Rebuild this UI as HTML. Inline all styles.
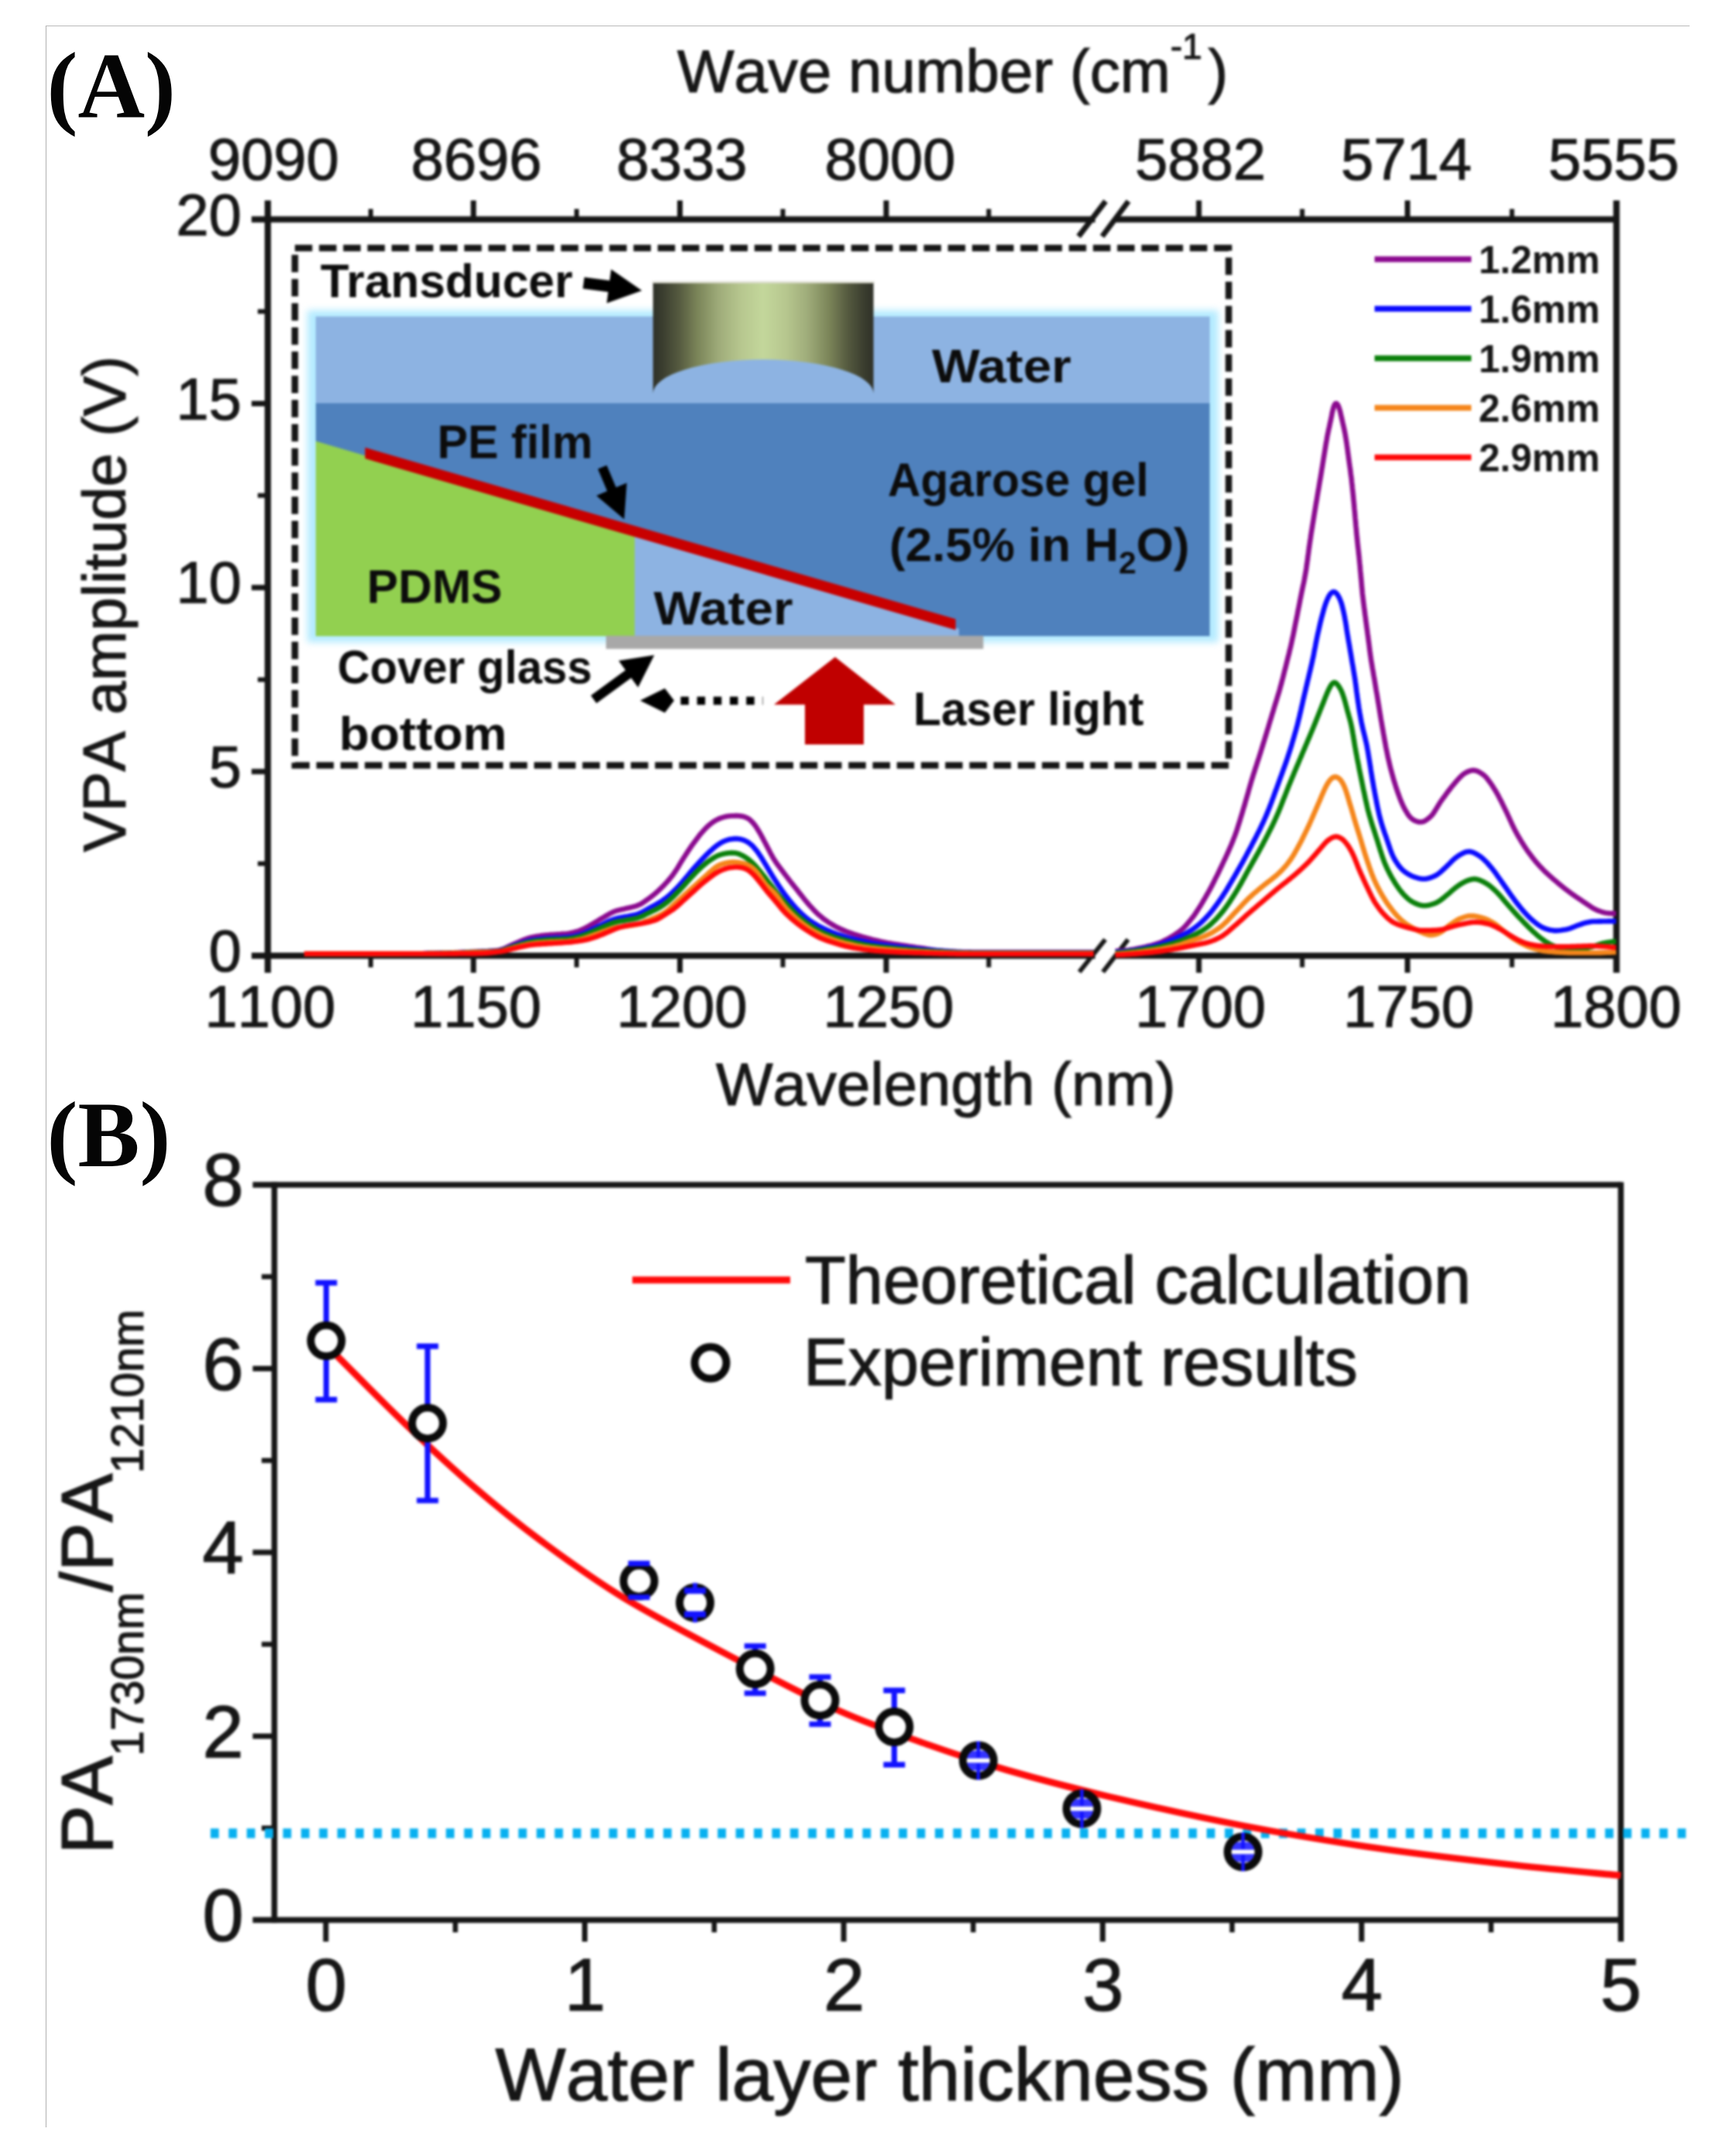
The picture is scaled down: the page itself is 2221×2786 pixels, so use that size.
<!DOCTYPE html>
<html lang="en">
<head>
<meta charset="utf-8">
<title>VPA amplitude spectra and water layer thickness</title>
<style>
html,body{margin:0;padding:0;background:#fff;}
body{width:2221px;height:2786px;overflow:hidden;position:relative;}
svg{display:block;position:absolute;left:0;top:0;}
</style>
</head>
<body>
<svg width="2221" height="2786" viewBox="0 0 2221 2786">
<defs>
<filter id="soft" color-interpolation-filters="sRGB" x="0" y="0" width="2221" height="2786" filterUnits="userSpaceOnUse"><feGaussianBlur stdDeviation="1.6"/></filter>
<filter id="soft2" x="40" y="40" width="220" height="1520" filterUnits="userSpaceOnUse" color-interpolation-filters="sRGB"><feGaussianBlur stdDeviation="0.7"/></filter>
<filter id="glow" color-interpolation-filters="sRGB" x="380" y="385" width="1215" height="465" filterUnits="userSpaceOnUse"><feGaussianBlur stdDeviation="4"/></filter>
<linearGradient id="trg" x1="0" x2="1" y1="0" y2="0">
<stop offset="0" stop-color="#2f3128"/><stop offset="0.04" stop-color="#393c2e"/><stop offset="0.12" stop-color="#565b40"/><stop offset="0.2" stop-color="#7a8458"/><stop offset="0.3" stop-color="#9fac7a"/><stop offset="0.4" stop-color="#b7c78f"/><stop offset="0.5" stop-color="#c3d79b"/><stop offset="0.6" stop-color="#b7c78f"/><stop offset="0.7" stop-color="#9fac7a"/><stop offset="0.8" stop-color="#7a8458"/><stop offset="0.88" stop-color="#565b40"/><stop offset="0.96" stop-color="#393c2e"/><stop offset="1" stop-color="#2f3128"/>
</linearGradient>
</defs>
<rect width="2221" height="2786" fill="#fff"/>
<path d="M59.5 2749 V33.5 H2183" fill="none" stroke="#b9b9b9" stroke-width="1.2"/>
<g filter="url(#soft)">
<g>
<rect x="397" y="401" width="1177" height="429" fill="#b4ebff" filter="url(#glow)"/>
<rect x="408" y="409" width="1155" height="113" fill="#8db3e2"/>
<rect x="408" y="521" width="1155" height="301" fill="#4f81bd"/>
<polygon points="408,570 820,691 820,822 408,822" fill="#92d050"/>
<polygon points="820,691 1239,812.5 1239,822 820,822" fill="#8db3e2"/>
<polygon points="471.7,578.3 1234.7,799.9 1234.7,814.1 471.7,592.5" fill="#c80000"/>
<rect x="783" y="821.5" width="487.5" height="17" fill="#a8a8a8"/>
<path d="M843.7 366 H1128.6 V508.5 A142.45 44 0 0 0 843.7 508.5 Z" fill="url(#trg)"/>
<path d="M842.5 364.8 H1129.8" stroke="#dcdcd0" stroke-width="2.5" fill="none"/>
<rect x="381" y="320.5" width="1206.5" height="668.5" fill="none" stroke="#161616" stroke-width="8.5" stroke-dasharray="22.5 8.75"/>
<g fill="#000">
<g transform="translate(754 365.6) rotate(7.4)"><path d="M0 -7.5 H33 V-22 L76 0 L33 22 V7.5 H0 Z"/></g>
<g transform="translate(778.2 603.6) rotate(67.2)"><path d="M0 -6.2 H31 V-21.3 L73 0 L31 21.3 V6.2 H0 Z"/></g>
<g transform="translate(767 903.7) rotate(-36.1)"><path d="M0 -6.2 H55.5 V-21.3 L97 0 L55.5 21.3 V6.2 H0 Z"/></g>
<path d="M827 905.2 L859 889.5 L871 905.2 L859 921 Z"/>
<line x1="879.4" x2="986" y1="905.5" y2="905.5" stroke="#000" stroke-width="10.5" stroke-dasharray="10.5 10.7"/>
</g>
<path d="M1079 849 L1157 910.5 H1116 V962 H1040 V910.5 H1000 Z" fill="#c00000"/>
<g font-family="'Liberation Sans', Arial, sans-serif" font-weight="bold" font-size="61" fill="#0c0c0c">
<text x="414.0" y="384.0" textLength="326.0" lengthAdjust="spacingAndGlyphs">Transducer</text>
<text x="1204.0" y="493.5" textLength="180.0" lengthAdjust="spacingAndGlyphs">Water</text>
<text x="565.0" y="592.0" textLength="201.0" lengthAdjust="spacingAndGlyphs">PE film</text>
<text x="1147.0" y="640.5" textLength="337.0" lengthAdjust="spacingAndGlyphs">Agarose gel</text>
<text x="1149" y="724.5" textLength="388" lengthAdjust="spacingAndGlyphs">(2.5% in H<tspan font-size="40" dy="16">2</tspan><tspan dy="-16">O)</tspan></text>
<text x="474.0" y="778.5" textLength="175.0" lengthAdjust="spacingAndGlyphs">PDMS</text>
<text x="844.5" y="806.5" textLength="180.0" lengthAdjust="spacingAndGlyphs">Water</text>
<text x="436.0" y="882.5" textLength="329.0" lengthAdjust="spacingAndGlyphs">Cover glass</text>
<text x="438.0" y="968.5" textLength="217.0" lengthAdjust="spacingAndGlyphs">bottom</text>
<text x="1180.0" y="936.5" textLength="298.0" lengthAdjust="spacingAndGlyphs">Laser light</text>
</g>
</g>
<g stroke="#161616" fill="none" stroke-linecap="butt">
<path stroke-width="8.2" d="M346.0 259.0 V1257.0 M2088.5 259.0 V1257.0"/>
<path stroke-width="8.2" d="M325 283.5 H1415.0 M1442.0 283.5 H2088.5 M325 1235.0 H1415.0 M1442.0 1235.0 H2088.5"/>
<path stroke-width="7" d="M611.7 283.5 V259.0 M611.7 1235.0 V1257.0 M878.5 283.5 V259.0 M878.5 1235.0 V1257.0 M1145.0 283.5 V259.0 M1145.0 1235.0 V1257.0 M1549.0 283.5 V259.0 M1549.0 1235.0 V1257.0 M1818.5 283.5 V259.0 M1818.5 1235.0 V1257.0 "/>
<path stroke-width="6" d="M479.0 283.5 V270.0 M479.0 1235.0 V1250.0 M745.0 283.5 V270.0 M745.0 1235.0 V1250.0 M1011.5 283.5 V270.0 M1011.5 1235.0 V1250.0 M1277.5 283.5 V270.0 M1277.5 1235.0 V1250.0 M1682.5 283.5 V270.0 M1682.5 1235.0 V1250.0 M1953.5 283.5 V270.0 M1953.5 1235.0 V1250.0 "/>
<path stroke-width="7" d="M325 521.4 H346.0 M325 759.2 H346.0 M325 997.1 H346.0 "/>
<path stroke-width="6" d="M333 402.4 H346.0 M333 640.3 H346.0 M333 878.2 H346.0 M333 1116.1 H346.0 "/>
<path stroke-width="7" d="M1393.5 305.5 L1428.5 260 M1424 305.5 L1458 260"/>
<path stroke-width="6" d="M1394.5 1256 L1428 1214 M1425 1256 L1457.5 1214"/>
</g>
<g fill="none" stroke-width="6.6" stroke-linejoin="round" stroke-linecap="butt">
<path stroke="#8b0a8f" d="M393.0 1232.5 L396.0 1232.5 L398.1 1232.5 L400.5 1232.5 L403.0 1232.5 L405.5 1232.5 L408.0 1232.5 L410.5 1232.5 L413.0 1232.5 L415.5 1232.5 L418.0 1232.5 L420.5 1232.5 L423.0 1232.5 L425.5 1232.5 L428.0 1232.5 L430.5 1232.5 L433.0 1232.5 L435.5 1232.5 L438.0 1232.5 L440.5 1232.5 L443.0 1232.5 L445.5 1232.5 L448.0 1232.5 L450.5 1232.5 L453.0 1232.5 L455.5 1232.5 L458.0 1232.5 L460.5 1232.5 L463.0 1232.5 L465.5 1232.5 L468.0 1232.5 L470.5 1232.5 L473.0 1232.5 L475.5 1232.5 L478.0 1232.5 L480.5 1232.5 L483.0 1232.5 L485.5 1232.5 L488.0 1232.5 L490.5 1232.5 L493.0 1232.5 L495.5 1232.5 L498.0 1232.5 L500.5 1232.5 L503.0 1232.5 L505.5 1232.4 L508.0 1232.4 L510.5 1232.4 L513.0 1232.4 L515.5 1232.4 L518.0 1232.4 L520.5 1232.4 L523.0 1232.3 L525.5 1232.3 L528.0 1232.3 L530.5 1232.3 L533.0 1232.3 L535.5 1232.2 L538.0 1232.2 L540.5 1232.2 L543.0 1232.2 L545.5 1232.2 L548.0 1232.1 L550.5 1232.1 L553.0 1232.1 L555.5 1232.0 L558.0 1232.0 L560.5 1232.0 L563.0 1231.9 L565.5 1231.9 L568.0 1231.8 L570.5 1231.8 L573.0 1231.7 L575.5 1231.6 L578.0 1231.5 L580.5 1231.4 L583.0 1231.3 L585.5 1231.2 L588.0 1231.1 L590.5 1231.0 L593.0 1230.9 L595.5 1230.7 L598.0 1230.6 L600.5 1230.5 L603.0 1230.4 L605.5 1230.2 L608.0 1230.1 L610.5 1230.0 L613.0 1229.8 L615.4 1229.7 L617.9 1229.6 L620.4 1229.5 L622.9 1229.4 L625.4 1229.3 L627.9 1229.2 L630.4 1229.1 L632.9 1228.9 L635.4 1228.8 L637.9 1228.6 L640.4 1228.4 L642.9 1228.1 L645.3 1227.7 L647.7 1227.0 L650.1 1226.2 L652.4 1225.3 L654.7 1224.2 L656.9 1223.1 L659.2 1222.1 L661.4 1221.0 L663.7 1220.0 L666.0 1219.0 L668.3 1218.0 L670.6 1217.1 L672.9 1216.1 L675.2 1215.1 L677.6 1214.2 L679.9 1213.3 L682.3 1212.5 L684.6 1211.8 L687.1 1211.2 L689.5 1210.7 L692.0 1210.2 L694.4 1209.8 L696.9 1209.5 L699.4 1209.1 L701.9 1208.8 L704.3 1208.5 L706.8 1208.3 L709.3 1208.1 L711.8 1207.8 L714.3 1207.7 L716.8 1207.5 L719.3 1207.4 L721.8 1207.2 L724.3 1207.1 L726.8 1206.9 L729.3 1206.7 L731.8 1206.5 L734.2 1206.2 L736.7 1205.8 L739.1 1205.3 L741.6 1204.7 L744.0 1204.0 L746.4 1203.3 L748.7 1202.5 L751.0 1201.5 L753.3 1200.5 L755.6 1199.4 L757.8 1198.3 L760.0 1197.1 L762.2 1195.9 L764.3 1194.6 L766.5 1193.4 L768.6 1192.1 L770.8 1190.8 L772.9 1189.5 L775.1 1188.2 L777.2 1186.9 L779.4 1185.7 L781.5 1184.4 L783.6 1183.1 L785.8 1181.8 L787.9 1180.6 L790.2 1179.4 L792.4 1178.4 L794.8 1177.5 L797.1 1176.7 L799.5 1176.1 L802.0 1175.5 L804.4 1174.9 L806.8 1174.4 L809.3 1173.8 L811.7 1173.3 L814.2 1172.7 L816.6 1172.1 L819.0 1171.5 L821.4 1170.8 L823.8 1170.0 L826.0 1169.0 L828.3 1167.9 L830.4 1166.6 L832.5 1165.2 L834.5 1163.8 L836.6 1162.3 L838.6 1160.8 L840.6 1159.3 L842.5 1157.8 L844.5 1156.3 L846.4 1154.7 L848.3 1153.0 L850.2 1151.4 L852.0 1149.7 L853.8 1148.0 L855.6 1146.2 L857.4 1144.4 L859.1 1142.6 L860.8 1140.8 L862.5 1138.9 L864.1 1137.0 L865.7 1135.1 L867.3 1133.2 L868.8 1131.2 L870.3 1129.2 L871.7 1127.2 L873.1 1125.1 L874.5 1123.0 L875.8 1120.9 L877.1 1118.7 L878.4 1116.6 L879.7 1114.4 L881.0 1112.3 L882.3 1110.2 L883.6 1108.1 L885.0 1106.0 L886.3 1103.9 L887.7 1101.8 L889.1 1099.7 L890.5 1097.6 L891.9 1095.5 L893.3 1093.5 L894.7 1091.4 L896.2 1089.4 L897.7 1087.4 L899.2 1085.4 L900.7 1083.4 L902.2 1081.4 L903.7 1079.4 L905.3 1077.5 L907.0 1075.6 L908.6 1073.8 L910.3 1071.9 L912.0 1070.1 L913.8 1068.3 L915.6 1066.7 L917.6 1065.1 L919.5 1063.5 L921.6 1062.1 L923.7 1060.7 L925.8 1059.5 L928.1 1058.4 L930.4 1057.4 L932.7 1056.6 L935.1 1055.9 L937.5 1055.3 L940.0 1054.8 L942.4 1054.5 L944.9 1054.3 L947.4 1054.2 L949.9 1054.1 L952.4 1054.1 L954.9 1054.3 L957.4 1054.6 L959.8 1055.0 L962.2 1055.7 L964.5 1056.6 L966.7 1057.7 L968.7 1059.2 L970.5 1060.8 L972.3 1062.6 L973.9 1064.5 L975.4 1066.4 L976.9 1068.5 L978.2 1070.5 L979.5 1072.7 L980.8 1074.8 L982.1 1077.0 L983.3 1079.2 L984.5 1081.4 L985.7 1083.6 L986.8 1085.8 L988.0 1088.0 L989.2 1090.2 L990.3 1092.4 L991.5 1094.6 L992.6 1096.9 L993.8 1099.1 L994.9 1101.3 L996.1 1103.5 L997.3 1105.7 L998.5 1107.9 L999.8 1110.0 L1001.1 1112.1 L1002.5 1114.2 L1003.9 1116.3 L1005.4 1118.3 L1006.9 1120.3 L1008.4 1122.3 L1009.9 1124.3 L1011.4 1126.3 L1012.9 1128.3 L1014.4 1130.3 L1016.0 1132.3 L1017.5 1134.2 L1019.0 1136.2 L1020.5 1138.2 L1022.1 1140.2 L1023.6 1142.1 L1025.2 1144.1 L1026.7 1146.0 L1028.3 1148.0 L1029.9 1149.9 L1031.4 1151.9 L1032.9 1153.9 L1034.5 1155.9 L1036.0 1157.8 L1037.6 1159.8 L1039.1 1161.7 L1040.7 1163.7 L1042.3 1165.6 L1043.9 1167.5 L1045.5 1169.4 L1047.2 1171.3 L1048.9 1173.1 L1050.6 1174.9 L1052.3 1176.8 L1054.1 1178.5 L1055.9 1180.3 L1057.7 1182.0 L1059.6 1183.6 L1061.5 1185.2 L1063.5 1186.8 L1065.4 1188.3 L1067.5 1189.7 L1069.5 1191.2 L1071.6 1192.5 L1073.7 1193.8 L1075.9 1195.1 L1078.1 1196.4 L1080.3 1197.6 L1082.5 1198.7 L1084.7 1199.8 L1087.0 1200.9 L1089.3 1201.9 L1091.6 1202.9 L1093.9 1203.8 L1096.2 1204.6 L1098.6 1205.5 L1101.0 1206.3 L1103.3 1207.1 L1105.7 1207.8 L1108.1 1208.6 L1110.5 1209.3 L1112.9 1210.1 L1115.3 1210.8 L1117.7 1211.5 L1120.1 1212.1 L1122.5 1212.8 L1124.9 1213.4 L1127.3 1214.1 L1129.8 1214.7 L1132.2 1215.3 L1134.6 1215.8 L1137.1 1216.4 L1139.5 1216.9 L1141.9 1217.4 L1144.4 1217.9 L1146.9 1218.4 L1149.3 1218.8 L1151.8 1219.3 L1154.2 1219.7 L1156.7 1220.1 L1159.2 1220.4 L1161.7 1220.8 L1164.1 1221.2 L1166.6 1221.5 L1169.1 1221.9 L1171.5 1222.3 L1174.0 1222.7 L1176.5 1223.0 L1179.0 1223.4 L1181.4 1223.8 L1183.9 1224.2 L1186.4 1224.5 L1188.8 1224.9 L1191.3 1225.2 L1193.8 1225.6 L1196.3 1226.0 L1198.7 1226.4 L1201.2 1226.8 L1203.7 1227.2 L1206.1 1227.6 L1208.6 1227.9 L1211.1 1228.2 L1213.6 1228.4 L1216.1 1228.6 L1218.6 1228.8 L1221.1 1229.0 L1223.6 1229.1 L1226.1 1229.3 L1228.5 1229.5 L1231.0 1229.6 L1233.5 1229.7 L1236.0 1229.9 L1238.5 1230.0 L1241.0 1230.1 L1243.5 1230.2 L1246.0 1230.3 L1248.5 1230.3 L1251.0 1230.4 L1253.5 1230.4 L1256.0 1230.5 L1258.5 1230.5 L1261.0 1230.5 L1263.5 1230.5 L1266.0 1230.5 L1268.5 1230.5 L1271.0 1230.5 L1273.5 1230.5 L1276.0 1230.5 L1278.5 1230.5 L1281.0 1230.5 L1283.5 1230.5 L1286.0 1230.5 L1288.5 1230.5 L1291.0 1230.5 L1293.5 1230.5 L1296.0 1230.5 L1298.5 1230.5 L1301.0 1230.5 L1303.5 1230.5 L1306.0 1230.5 L1308.5 1230.5 L1311.0 1230.5 L1313.5 1230.5 L1316.0 1230.5 L1318.5 1230.5 L1321.0 1230.5 L1323.5 1230.5 L1326.0 1230.5 L1328.5 1230.5 L1331.0 1230.5 L1333.5 1230.5 L1336.0 1230.5 L1338.5 1230.5 L1341.0 1230.5 L1343.5 1230.5 L1346.0 1230.5 L1348.5 1230.5 L1351.0 1230.5 L1353.5 1230.5 L1356.0 1230.5 L1358.5 1230.5 L1361.0 1230.5 L1363.5 1230.5 L1366.0 1230.5 L1368.5 1230.5 L1371.0 1230.5 L1373.5 1230.5 L1376.0 1230.5 L1378.5 1230.5 L1381.0 1230.5 L1383.5 1230.5 L1386.0 1230.5 L1388.5 1230.5 L1391.0 1230.5 L1393.5 1230.5 L1396.0 1230.5 L1398.5 1230.5 L1401.0 1230.5 L1403.5 1230.5 L1406.0 1230.5 L1408.3 1230.5 L1410.3 1230.5 L1413.0 1230.5"/>
<path stroke="#8b0a8f" d="M1441.0 1229.0 L1443.8 1228.9 L1446.1 1228.8 L1448.5 1228.7 L1451.0 1228.5 L1453.5 1228.3 L1456.0 1228.0 L1458.4 1227.7 L1460.9 1227.3 L1463.4 1226.9 L1465.8 1226.5 L1468.3 1226.0 L1470.7 1225.5 L1473.2 1225.0 L1475.6 1224.5 L1478.1 1223.9 L1480.5 1223.4 L1482.9 1222.8 L1485.4 1222.2 L1487.8 1221.6 L1490.2 1220.9 L1492.6 1220.2 L1495.0 1219.4 L1497.3 1218.6 L1499.6 1217.7 L1501.9 1216.7 L1504.2 1215.6 L1506.4 1214.5 L1508.6 1213.3 L1510.8 1212.1 L1513.0 1210.8 L1515.1 1209.5 L1517.2 1208.2 L1519.3 1206.8 L1521.3 1205.4 L1523.4 1203.9 L1525.4 1202.4 L1527.3 1200.8 L1529.1 1199.1 L1530.9 1197.3 L1532.6 1195.5 L1534.2 1193.6 L1535.8 1191.7 L1537.4 1189.8 L1539.0 1187.8 L1540.5 1185.9 L1542.0 1183.9 L1543.5 1181.9 L1544.9 1179.8 L1546.3 1177.7 L1547.7 1175.6 L1549.0 1173.5 L1550.4 1171.4 L1551.7 1169.3 L1553.0 1167.1 L1554.2 1165.0 L1555.5 1162.8 L1556.8 1160.7 L1558.0 1158.5 L1559.3 1156.3 L1560.5 1154.2 L1561.7 1152.0 L1562.9 1149.8 L1564.1 1147.6 L1565.3 1145.4 L1566.4 1143.2 L1567.6 1140.9 L1568.7 1138.7 L1569.8 1136.5 L1570.9 1134.2 L1572.1 1132.0 L1573.2 1129.8 L1574.3 1127.5 L1575.3 1125.3 L1576.4 1123.0 L1577.5 1120.8 L1578.6 1118.5 L1579.7 1116.2 L1580.7 1114.0 L1581.8 1111.7 L1582.9 1109.5 L1583.9 1107.2 L1585.0 1104.9 L1586.0 1102.6 L1587.0 1100.4 L1588.0 1098.1 L1589.0 1095.8 L1590.0 1093.5 L1591.0 1091.2 L1591.9 1088.9 L1592.9 1086.6 L1593.8 1084.2 L1594.7 1081.9 L1595.6 1079.6 L1596.4 1077.2 L1597.3 1074.9 L1598.1 1072.5 L1598.9 1070.1 L1599.6 1067.7 L1600.4 1065.4 L1601.1 1063.0 L1601.9 1060.6 L1602.6 1058.2 L1603.3 1055.8 L1604.1 1053.4 L1604.8 1051.0 L1605.5 1048.6 L1606.2 1046.2 L1606.9 1043.8 L1607.7 1041.4 L1608.4 1039.0 L1609.0 1036.6 L1609.7 1034.2 L1610.4 1031.8 L1611.1 1029.4 L1611.8 1027.0 L1612.5 1024.6 L1613.1 1022.2 L1613.8 1019.8 L1614.5 1017.4 L1615.2 1015.0 L1615.9 1012.6 L1616.6 1010.2 L1617.3 1007.8 L1618.1 1005.4 L1618.8 1003.0 L1619.5 1000.6 L1620.3 998.3 L1621.1 995.9 L1621.8 993.5 L1622.6 991.1 L1623.4 988.7 L1624.1 986.4 L1624.9 984.0 L1625.7 981.6 L1626.5 979.2 L1627.2 976.8 L1628.0 974.5 L1628.7 972.1 L1629.5 969.7 L1630.2 967.3 L1631.0 964.9 L1631.7 962.5 L1632.4 960.1 L1633.2 957.7 L1633.9 955.4 L1634.6 953.0 L1635.4 950.6 L1636.1 948.2 L1636.8 945.8 L1637.5 943.4 L1638.3 941.0 L1639.0 938.6 L1639.7 936.2 L1640.4 933.8 L1641.1 931.4 L1641.9 929.0 L1642.6 926.6 L1643.3 924.3 L1644.0 921.9 L1644.8 919.5 L1645.5 917.1 L1646.2 914.7 L1646.9 912.3 L1647.7 909.9 L1648.4 907.5 L1649.2 905.1 L1649.9 902.7 L1650.6 900.3 L1651.3 898.0 L1652.1 895.6 L1652.8 893.2 L1653.5 890.8 L1654.1 888.4 L1654.8 885.9 L1655.5 883.5 L1656.1 881.1 L1656.7 878.7 L1657.4 876.3 L1658.0 873.9 L1658.6 871.4 L1659.2 869.0 L1659.8 866.6 L1660.5 864.2 L1661.1 861.7 L1661.7 859.3 L1662.3 856.9 L1662.9 854.5 L1663.5 852.0 L1664.1 849.6 L1664.7 847.2 L1665.4 844.8 L1665.9 842.3 L1666.5 839.9 L1667.1 837.5 L1667.7 835.0 L1668.2 832.6 L1668.8 830.2 L1669.3 827.7 L1669.8 825.3 L1670.4 822.8 L1670.9 820.4 L1671.4 817.9 L1671.9 815.5 L1672.4 813.0 L1672.8 810.6 L1673.3 808.1 L1673.8 805.7 L1674.3 803.2 L1674.8 800.8 L1675.3 798.3 L1675.8 795.9 L1676.3 793.4 L1676.7 791.0 L1677.2 788.5 L1677.7 786.1 L1678.2 783.6 L1678.7 781.2 L1679.2 778.7 L1679.6 776.2 L1680.1 773.8 L1680.6 771.3 L1681.1 768.9 L1681.6 766.4 L1682.1 764.0 L1682.6 761.5 L1683.1 759.1 L1683.6 756.7 L1684.2 754.2 L1684.7 751.8 L1685.2 749.3 L1685.6 746.9 L1686.1 744.4 L1686.5 741.9 L1687.0 739.5 L1687.4 737.0 L1687.8 734.5 L1688.1 732.1 L1688.5 729.6 L1688.8 727.1 L1689.2 724.6 L1689.5 722.2 L1689.8 719.7 L1690.1 717.2 L1690.5 714.7 L1690.8 712.2 L1691.1 709.8 L1691.5 707.3 L1691.8 704.8 L1692.2 702.3 L1692.5 699.9 L1692.9 697.4 L1693.3 694.9 L1693.6 692.5 L1694.0 690.0 L1694.4 687.5 L1694.8 685.0 L1695.2 682.6 L1695.6 680.1 L1696.0 677.6 L1696.4 675.2 L1696.8 672.7 L1697.2 670.2 L1697.6 667.8 L1698.0 665.3 L1698.4 662.8 L1698.8 660.4 L1699.2 657.9 L1699.6 655.4 L1700.0 653.0 L1700.4 650.5 L1700.9 648.0 L1701.3 645.6 L1701.7 643.1 L1702.1 640.6 L1702.5 638.2 L1702.9 635.7 L1703.4 633.2 L1703.8 630.8 L1704.2 628.3 L1704.6 625.8 L1705.0 623.4 L1705.4 620.9 L1705.9 618.5 L1706.3 616.0 L1706.7 613.5 L1707.1 611.1 L1707.5 608.6 L1707.9 606.1 L1708.3 603.7 L1708.7 601.2 L1709.1 598.7 L1709.5 596.3 L1709.9 593.8 L1710.3 591.3 L1710.7 588.9 L1711.1 586.4 L1711.5 583.9 L1711.9 581.4 L1712.3 579.0 L1712.7 576.5 L1713.1 574.0 L1713.5 571.6 L1714.0 569.1 L1714.4 566.7 L1714.8 564.2 L1715.3 561.7 L1715.8 559.3 L1716.3 556.8 L1716.8 554.4 L1717.4 552.0 L1717.9 549.5 L1718.4 547.1 L1719.0 544.6 L1719.5 542.2 L1720.0 539.7 L1720.5 537.3 L1720.9 534.8 L1721.4 532.4 L1722.0 529.9 L1722.6 527.5 L1723.4 525.2 L1724.3 523.0 L1725.5 521.6 L1726.8 521.4 L1728.1 522.6 L1729.1 524.6 L1730.0 526.8 L1730.8 529.2 L1731.5 531.6 L1732.1 534.1 L1732.6 536.5 L1733.2 538.9 L1733.7 541.4 L1734.3 543.8 L1734.8 546.2 L1735.4 548.7 L1735.9 551.1 L1736.5 553.6 L1737.0 556.0 L1737.5 558.5 L1738.0 560.9 L1738.4 563.4 L1738.8 565.8 L1739.2 568.3 L1739.6 570.8 L1740.0 573.2 L1740.3 575.7 L1740.7 578.2 L1741.0 580.7 L1741.3 583.2 L1741.6 585.6 L1742.0 588.1 L1742.3 590.6 L1742.6 593.1 L1743.0 595.5 L1743.3 598.0 L1743.7 600.5 L1744.0 603.0 L1744.4 605.4 L1744.7 607.9 L1745.0 610.4 L1745.3 612.9 L1745.7 615.4 L1746.0 617.8 L1746.3 620.3 L1746.5 622.8 L1746.8 625.3 L1747.1 627.8 L1747.3 630.3 L1747.6 632.8 L1747.8 635.2 L1748.1 637.7 L1748.3 640.2 L1748.6 642.7 L1748.8 645.2 L1749.0 647.7 L1749.3 650.2 L1749.5 652.7 L1749.7 655.2 L1749.9 657.6 L1750.2 660.1 L1750.4 662.6 L1750.6 665.1 L1750.8 667.6 L1751.0 670.1 L1751.3 672.6 L1751.5 675.1 L1751.7 677.6 L1751.9 680.1 L1752.2 682.5 L1752.4 685.0 L1752.6 687.5 L1752.8 690.0 L1753.1 692.5 L1753.3 695.0 L1753.6 697.5 L1753.8 700.0 L1754.1 702.5 L1754.3 704.9 L1754.6 707.4 L1754.9 709.9 L1755.2 712.4 L1755.4 714.9 L1755.7 717.4 L1756.0 719.8 L1756.2 722.3 L1756.5 724.8 L1756.7 727.3 L1757.0 729.8 L1757.2 732.3 L1757.4 734.8 L1757.6 737.3 L1757.9 739.8 L1758.1 742.2 L1758.3 744.7 L1758.5 747.2 L1758.8 749.7 L1759.0 752.2 L1759.2 754.7 L1759.4 757.2 L1759.6 759.7 L1759.9 762.2 L1760.1 764.7 L1760.3 767.1 L1760.6 769.6 L1760.9 772.1 L1761.2 774.6 L1761.5 777.1 L1761.8 779.6 L1762.1 782.0 L1762.4 784.5 L1762.8 787.0 L1763.1 789.5 L1763.4 792.0 L1763.7 794.4 L1764.1 796.9 L1764.4 799.4 L1764.7 801.9 L1765.0 804.3 L1765.4 806.8 L1765.7 809.3 L1766.0 811.8 L1766.4 814.3 L1766.7 816.7 L1767.0 819.2 L1767.4 821.7 L1767.7 824.2 L1768.0 826.7 L1768.3 829.1 L1768.7 831.6 L1769.0 834.1 L1769.3 836.6 L1769.6 839.0 L1769.9 841.5 L1770.3 844.0 L1770.6 846.5 L1771.0 849.0 L1771.3 851.4 L1771.7 853.9 L1772.1 856.4 L1772.5 858.8 L1772.9 861.3 L1773.3 863.8 L1773.8 866.2 L1774.2 868.7 L1774.6 871.2 L1775.0 873.6 L1775.5 876.1 L1775.9 878.5 L1776.3 881.0 L1776.7 883.5 L1777.1 885.9 L1777.5 888.4 L1777.9 890.9 L1778.3 893.3 L1778.8 895.8 L1779.2 898.3 L1779.6 900.7 L1780.0 903.2 L1780.4 905.7 L1780.8 908.1 L1781.2 910.6 L1781.6 913.1 L1782.0 915.5 L1782.4 918.0 L1782.8 920.5 L1783.2 923.0 L1783.6 925.4 L1784.0 927.9 L1784.4 930.3 L1784.9 932.8 L1785.3 935.3 L1785.7 937.7 L1786.1 940.2 L1786.6 942.7 L1787.0 945.1 L1787.4 947.6 L1787.9 950.1 L1788.3 952.5 L1788.7 955.0 L1789.2 957.4 L1789.6 959.9 L1790.1 962.4 L1790.5 964.8 L1791.0 967.3 L1791.5 969.7 L1792.0 972.2 L1792.5 974.6 L1793.0 977.1 L1793.5 979.5 L1794.1 981.9 L1794.7 984.4 L1795.2 986.8 L1795.8 989.2 L1796.4 991.7 L1797.0 994.1 L1797.7 996.5 L1798.3 998.9 L1799.0 1001.3 L1799.6 1003.7 L1800.3 1006.2 L1801.0 1008.6 L1801.7 1010.9 L1802.5 1013.3 L1803.2 1015.7 L1804.0 1018.1 L1804.8 1020.5 L1805.6 1022.8 L1806.4 1025.2 L1807.3 1027.5 L1808.1 1029.9 L1809.0 1032.2 L1809.9 1034.6 L1810.9 1036.9 L1811.9 1039.2 L1812.9 1041.4 L1814.0 1043.7 L1815.2 1045.9 L1816.5 1048.0 L1817.7 1050.2 L1819.1 1052.3 L1820.5 1054.3 L1822.1 1056.2 L1823.9 1057.9 L1825.9 1059.3 L1828.1 1060.5 L1830.4 1061.4 L1832.8 1062.1 L1835.2 1062.3 L1837.6 1062.0 L1839.9 1061.3 L1842.1 1060.1 L1844.1 1058.7 L1846.1 1057.2 L1848.0 1055.5 L1849.7 1053.8 L1851.3 1051.9 L1852.7 1049.8 L1854.1 1047.7 L1855.4 1045.6 L1856.7 1043.5 L1858.0 1041.3 L1859.3 1039.2 L1860.6 1037.1 L1862.0 1035.0 L1863.5 1033.0 L1864.9 1030.9 L1866.4 1028.9 L1867.9 1026.9 L1869.3 1024.9 L1870.8 1022.9 L1872.4 1020.9 L1873.9 1018.9 L1875.4 1017.0 L1877.0 1015.0 L1878.7 1013.1 L1880.3 1011.2 L1881.9 1009.3 L1883.6 1007.4 L1885.2 1005.6 L1887.0 1003.8 L1888.8 1002.1 L1890.7 1000.5 L1892.8 999.1 L1894.9 997.9 L1897.2 996.9 L1899.5 996.0 L1901.9 995.5 L1904.3 995.4 L1906.7 995.8 L1909.0 996.6 L1911.3 997.7 L1913.4 999.0 L1915.5 1000.4 L1917.4 1001.9 L1919.3 1003.6 L1921.0 1005.4 L1922.5 1007.4 L1924.0 1009.4 L1925.5 1011.4 L1926.9 1013.5 L1928.3 1015.6 L1929.6 1017.7 L1930.9 1019.8 L1932.3 1021.9 L1933.5 1024.1 L1934.7 1026.2 L1935.9 1028.4 L1937.1 1030.7 L1938.2 1032.9 L1939.4 1035.1 L1940.5 1037.3 L1941.6 1039.6 L1942.7 1041.8 L1943.8 1044.1 L1944.9 1046.3 L1946.0 1048.6 L1947.1 1050.8 L1948.1 1053.1 L1949.2 1055.4 L1950.2 1057.6 L1951.2 1059.9 L1952.3 1062.2 L1953.3 1064.5 L1954.4 1066.7 L1955.5 1069.0 L1956.6 1071.2 L1957.7 1073.4 L1958.9 1075.6 L1960.1 1077.8 L1961.3 1080.0 L1962.6 1082.2 L1963.9 1084.3 L1965.1 1086.5 L1966.4 1088.6 L1967.8 1090.7 L1969.1 1092.8 L1970.5 1094.9 L1971.9 1097.0 L1973.3 1099.1 L1974.7 1101.1 L1976.2 1103.1 L1977.7 1105.1 L1979.2 1107.1 L1980.8 1109.1 L1982.3 1111.0 L1983.9 1113.0 L1985.5 1114.9 L1987.2 1116.8 L1988.8 1118.6 L1990.5 1120.4 L1992.3 1122.2 L1994.0 1124.0 L1995.8 1125.8 L1997.6 1127.5 L1999.4 1129.2 L2001.3 1130.9 L2003.1 1132.6 L2005.0 1134.2 L2006.9 1135.9 L2008.8 1137.5 L2010.7 1139.1 L2012.6 1140.7 L2014.5 1142.4 L2016.4 1143.9 L2018.4 1145.5 L2020.3 1147.1 L2022.3 1148.6 L2024.3 1150.1 L2026.3 1151.6 L2028.3 1153.1 L2030.3 1154.6 L2032.3 1156.1 L2034.4 1157.5 L2036.4 1158.9 L2038.5 1160.3 L2040.6 1161.7 L2042.7 1163.1 L2044.7 1164.5 L2046.8 1165.9 L2048.9 1167.3 L2050.9 1168.7 L2053.0 1170.1 L2055.1 1171.5 L2057.2 1172.9 L2059.3 1174.1 L2061.6 1175.3 L2063.8 1176.3 L2066.2 1177.2 L2068.5 1178.0 L2070.9 1178.8 L2073.3 1179.4 L2075.8 1179.8 L2078.3 1180.1 L2080.7 1180.2 L2083.2 1180.4 L2085.3 1180.4 L2088.0 1180.5"/>
<path stroke="#0a0aff" d="M393.0 1232.5 L396.0 1232.5 L398.1 1232.5 L400.5 1232.5 L403.0 1232.5 L405.5 1232.5 L408.0 1232.5 L410.5 1232.5 L413.0 1232.5 L415.5 1232.5 L418.0 1232.5 L420.5 1232.5 L423.0 1232.5 L425.5 1232.5 L428.0 1232.5 L430.5 1232.5 L433.0 1232.5 L435.5 1232.5 L438.0 1232.5 L440.5 1232.5 L443.0 1232.5 L445.5 1232.5 L448.0 1232.5 L450.5 1232.5 L453.0 1232.5 L455.5 1232.5 L458.0 1232.5 L460.5 1232.5 L463.0 1232.5 L465.5 1232.5 L468.0 1232.5 L470.5 1232.5 L473.0 1232.5 L475.5 1232.5 L478.0 1232.5 L480.5 1232.5 L483.0 1232.5 L485.5 1232.5 L488.0 1232.5 L490.5 1232.5 L493.0 1232.5 L495.5 1232.4 L498.0 1232.4 L500.5 1232.4 L503.0 1232.4 L505.5 1232.4 L508.0 1232.4 L510.5 1232.4 L513.0 1232.4 L515.5 1232.4 L518.0 1232.4 L520.5 1232.3 L523.0 1232.3 L525.5 1232.3 L528.0 1232.3 L530.5 1232.3 L533.0 1232.3 L535.5 1232.3 L538.0 1232.2 L540.5 1232.2 L543.0 1232.2 L545.5 1232.2 L548.0 1232.2 L550.5 1232.1 L553.0 1232.1 L555.5 1232.1 L558.0 1232.1 L560.5 1232.0 L563.0 1232.0 L565.5 1232.0 L568.0 1231.9 L570.5 1231.9 L573.0 1231.8 L575.5 1231.7 L578.0 1231.7 L580.5 1231.6 L583.0 1231.5 L585.5 1231.4 L588.0 1231.3 L590.5 1231.2 L593.0 1231.1 L595.5 1231.0 L598.0 1230.9 L600.5 1230.8 L603.0 1230.7 L605.5 1230.6 L608.0 1230.5 L610.5 1230.4 L613.0 1230.3 L615.5 1230.2 L618.0 1230.1 L620.5 1230.0 L623.0 1229.9 L625.5 1229.8 L628.0 1229.7 L630.5 1229.6 L633.0 1229.5 L635.4 1229.4 L637.9 1229.3 L640.4 1229.1 L642.9 1228.9 L645.4 1228.5 L647.8 1227.9 L650.2 1227.3 L652.6 1226.5 L654.9 1225.6 L657.2 1224.7 L659.6 1223.7 L661.9 1222.9 L664.2 1222.0 L666.6 1221.2 L669.0 1220.4 L671.3 1219.6 L673.7 1218.8 L676.1 1218.0 L678.4 1217.2 L680.8 1216.5 L683.3 1215.8 L685.7 1215.3 L688.1 1214.8 L690.6 1214.4 L693.1 1214.0 L695.6 1213.7 L698.0 1213.4 L700.5 1213.2 L703.0 1212.9 L705.5 1212.7 L708.0 1212.5 L710.5 1212.3 L713.0 1212.2 L715.5 1212.0 L718.0 1211.9 L720.5 1211.8 L723.0 1211.7 L725.5 1211.6 L728.0 1211.4 L730.5 1211.3 L732.9 1211.0 L735.4 1210.7 L737.9 1210.4 L740.4 1209.9 L742.8 1209.4 L745.2 1208.8 L747.6 1208.1 L750.0 1207.4 L752.4 1206.6 L754.7 1205.7 L757.0 1204.7 L759.3 1203.7 L761.6 1202.7 L763.8 1201.6 L766.1 1200.6 L768.4 1199.5 L770.6 1198.4 L772.8 1197.3 L775.1 1196.2 L777.3 1195.1 L779.6 1193.9 L781.8 1192.8 L784.0 1191.7 L786.3 1190.6 L788.6 1189.6 L790.9 1188.7 L793.2 1187.8 L795.6 1187.1 L798.0 1186.5 L800.5 1186.0 L802.9 1185.5 L805.4 1185.1 L807.9 1184.6 L810.3 1184.2 L812.8 1183.7 L815.2 1183.2 L817.7 1182.7 L820.1 1182.2 L822.5 1181.6 L824.9 1180.8 L827.2 1179.9 L829.5 1178.8 L831.7 1177.7 L833.8 1176.4 L836.0 1175.2 L838.2 1173.9 L840.4 1172.7 L842.6 1171.5 L844.8 1170.3 L846.9 1169.1 L849.1 1167.9 L851.3 1166.6 L853.4 1165.3 L855.5 1163.9 L857.5 1162.5 L859.6 1161.0 L861.5 1159.5 L863.5 1157.9 L865.4 1156.3 L867.2 1154.6 L869.0 1152.9 L870.8 1151.2 L872.6 1149.4 L874.4 1147.6 L876.1 1145.8 L877.8 1144.0 L879.4 1142.1 L881.1 1140.2 L882.7 1138.3 L884.3 1136.5 L886.0 1134.5 L887.6 1132.6 L889.2 1130.7 L890.7 1128.8 L892.3 1126.8 L894.0 1124.9 L895.6 1123.0 L897.2 1121.2 L898.9 1119.3 L900.6 1117.4 L902.2 1115.6 L903.9 1113.7 L905.6 1111.9 L907.4 1110.1 L909.1 1108.3 L910.8 1106.5 L912.6 1104.7 L914.4 1103.0 L916.2 1101.2 L918.0 1099.5 L919.9 1097.9 L921.7 1096.2 L923.6 1094.6 L925.6 1093.0 L927.6 1091.6 L929.7 1090.2 L931.8 1088.9 L934.0 1087.7 L936.3 1086.7 L938.6 1085.8 L941.0 1085.1 L943.4 1084.6 L945.9 1084.2 L948.4 1083.9 L950.8 1083.8 L953.3 1083.9 L955.8 1084.3 L958.2 1084.8 L960.6 1085.5 L962.9 1086.5 L965.1 1087.6 L967.2 1088.9 L969.2 1090.4 L971.1 1092.0 L972.9 1093.7 L974.5 1095.6 L976.1 1097.5 L977.7 1099.4 L979.2 1101.5 L980.6 1103.5 L982.0 1105.6 L983.4 1107.7 L984.7 1109.8 L986.0 1111.9 L987.3 1114.1 L988.6 1116.2 L989.9 1118.3 L991.1 1120.5 L992.4 1122.6 L993.7 1124.8 L995.0 1126.9 L996.3 1129.0 L997.6 1131.2 L998.9 1133.3 L1000.3 1135.4 L1001.6 1137.5 L1003.0 1139.6 L1004.3 1141.7 L1005.7 1143.8 L1007.1 1145.9 L1008.5 1148.0 L1009.9 1150.0 L1011.3 1152.1 L1012.8 1154.1 L1014.2 1156.1 L1015.7 1158.1 L1017.3 1160.1 L1018.8 1162.1 L1020.4 1164.0 L1022.0 1166.0 L1023.6 1167.9 L1025.2 1169.8 L1026.9 1171.7 L1028.5 1173.5 L1030.3 1175.3 L1032.0 1177.1 L1033.8 1178.9 L1035.6 1180.6 L1037.4 1182.3 L1039.3 1184.0 L1041.2 1185.6 L1043.1 1187.2 L1045.1 1188.7 L1047.1 1190.1 L1049.2 1191.5 L1051.3 1192.8 L1053.5 1194.1 L1055.6 1195.4 L1057.8 1196.6 L1060.0 1197.7 L1062.3 1198.9 L1064.5 1200.0 L1066.8 1201.0 L1069.0 1202.1 L1071.3 1203.1 L1073.6 1204.1 L1075.9 1205.0 L1078.3 1205.9 L1080.6 1206.8 L1083.0 1207.6 L1085.3 1208.4 L1087.7 1209.2 L1090.1 1210.0 L1092.5 1210.7 L1094.9 1211.4 L1097.3 1212.1 L1099.7 1212.7 L1102.1 1213.4 L1104.5 1214.0 L1107.0 1214.6 L1109.4 1215.2 L1111.8 1215.8 L1114.3 1216.3 L1116.7 1216.8 L1119.2 1217.3 L1121.6 1217.8 L1124.1 1218.2 L1126.5 1218.7 L1129.0 1219.1 L1131.5 1219.5 L1133.9 1219.9 L1136.4 1220.3 L1138.9 1220.6 L1141.4 1221.0 L1143.8 1221.3 L1146.3 1221.6 L1148.8 1222.0 L1151.3 1222.3 L1153.8 1222.6 L1156.2 1222.9 L1158.7 1223.2 L1161.2 1223.5 L1163.7 1223.8 L1166.2 1224.1 L1168.6 1224.4 L1171.1 1224.7 L1173.6 1225.0 L1176.1 1225.3 L1178.6 1225.5 L1181.1 1225.8 L1183.6 1226.0 L1186.0 1226.3 L1188.5 1226.5 L1191.0 1226.7 L1193.5 1227.0 L1196.0 1227.2 L1198.5 1227.4 L1201.0 1227.6 L1203.5 1227.8 L1206.0 1228.0 L1208.5 1228.2 L1211.0 1228.4 L1213.4 1228.6 L1215.9 1228.8 L1218.4 1229.0 L1220.9 1229.2 L1223.4 1229.3 L1225.9 1229.5 L1228.4 1229.7 L1230.9 1229.9 L1233.4 1230.0 L1235.9 1230.2 L1238.4 1230.3 L1240.9 1230.5 L1243.4 1230.6 L1245.9 1230.7 L1248.4 1230.8 L1250.9 1230.9 L1253.4 1230.9 L1255.9 1231.0 L1258.4 1231.0 L1260.9 1231.0 L1263.4 1231.0 L1265.9 1231.0 L1268.4 1231.0 L1270.9 1231.0 L1273.4 1231.0 L1275.9 1231.0 L1278.4 1231.0 L1280.9 1231.0 L1283.4 1231.0 L1285.9 1231.0 L1288.4 1231.0 L1290.9 1231.0 L1293.4 1231.0 L1295.9 1231.0 L1298.4 1231.0 L1300.9 1231.0 L1303.4 1231.0 L1305.9 1231.0 L1308.4 1231.0 L1310.9 1231.0 L1313.4 1231.0 L1315.9 1231.0 L1318.4 1231.0 L1320.9 1231.0 L1323.4 1231.0 L1325.9 1231.0 L1328.4 1231.0 L1330.9 1231.0 L1333.4 1231.0 L1335.9 1231.0 L1338.4 1231.0 L1340.9 1231.0 L1343.4 1231.0 L1345.9 1231.0 L1348.4 1231.0 L1350.9 1231.0 L1353.4 1231.0 L1355.9 1231.0 L1358.4 1231.0 L1360.9 1231.0 L1363.4 1231.0 L1365.9 1231.0 L1368.4 1231.0 L1370.9 1231.0 L1373.4 1231.0 L1375.9 1231.0 L1378.4 1231.0 L1380.9 1231.0 L1383.4 1231.0 L1385.9 1231.0 L1388.4 1231.0 L1390.9 1231.0 L1393.4 1231.0 L1395.9 1231.0 L1398.4 1231.0 L1400.9 1231.0 L1403.4 1231.0 L1405.8 1231.0 L1408.2 1231.0 L1410.3 1231.0 L1413.0 1231.0"/>
<path stroke="#0a0aff" d="M1441.0 1230.4 L1443.8 1230.3 L1446.1 1230.2 L1448.5 1230.0 L1451.0 1229.8 L1453.5 1229.6 L1456.0 1229.3 L1458.4 1229.0 L1460.9 1228.6 L1463.4 1228.3 L1465.8 1227.9 L1468.3 1227.4 L1470.8 1227.0 L1473.2 1226.5 L1475.7 1226.1 L1478.1 1225.6 L1480.6 1225.0 L1483.0 1224.5 L1485.5 1224.0 L1487.9 1223.5 L1490.3 1222.9 L1492.8 1222.3 L1495.2 1221.6 L1497.6 1220.9 L1499.9 1220.1 L1502.3 1219.3 L1504.6 1218.4 L1507.0 1217.5 L1509.3 1216.6 L1511.6 1215.6 L1513.9 1214.6 L1516.2 1213.7 L1518.5 1212.7 L1520.8 1211.6 L1523.1 1210.6 L1525.3 1209.6 L1527.6 1208.5 L1529.8 1207.4 L1532.0 1206.2 L1534.2 1205.0 L1536.4 1203.7 L1538.5 1202.4 L1540.6 1201.0 L1542.6 1199.6 L1544.6 1198.1 L1546.6 1196.6 L1548.5 1195.0 L1550.4 1193.4 L1552.3 1191.7 L1554.1 1190.0 L1555.9 1188.2 L1557.6 1186.4 L1559.4 1184.6 L1561.0 1182.8 L1562.7 1180.9 L1564.3 1179.0 L1565.9 1177.0 L1567.4 1175.1 L1568.9 1173.1 L1570.4 1171.1 L1571.9 1169.1 L1573.3 1167.0 L1574.8 1165.0 L1576.2 1162.9 L1577.6 1160.9 L1579.0 1158.8 L1580.4 1156.7 L1581.7 1154.6 L1583.1 1152.5 L1584.4 1150.4 L1585.7 1148.2 L1587.0 1146.1 L1588.2 1143.9 L1589.5 1141.8 L1590.8 1139.6 L1592.0 1137.5 L1593.3 1135.3 L1594.6 1133.1 L1595.8 1131.0 L1597.1 1128.8 L1598.3 1126.6 L1599.5 1124.5 L1600.8 1122.3 L1602.0 1120.1 L1603.2 1117.9 L1604.5 1115.8 L1605.7 1113.6 L1606.9 1111.4 L1608.1 1109.2 L1609.3 1107.0 L1610.5 1104.8 L1611.6 1102.6 L1612.8 1100.4 L1614.0 1098.2 L1615.1 1096.0 L1616.3 1093.8 L1617.5 1091.5 L1618.6 1089.3 L1619.8 1087.1 L1621.0 1084.9 L1622.1 1082.7 L1623.3 1080.5 L1624.4 1078.2 L1625.5 1076.0 L1626.7 1073.8 L1627.8 1071.5 L1628.9 1069.3 L1629.9 1067.0 L1631.0 1064.8 L1632.1 1062.5 L1633.1 1060.2 L1634.1 1058.0 L1635.1 1055.7 L1636.1 1053.4 L1637.1 1051.1 L1638.0 1048.7 L1639.0 1046.4 L1639.9 1044.1 L1640.8 1041.8 L1641.7 1039.4 L1642.6 1037.1 L1643.4 1034.8 L1644.3 1032.4 L1645.2 1030.1 L1646.0 1027.7 L1646.9 1025.4 L1647.7 1023.0 L1648.6 1020.7 L1649.5 1018.3 L1650.3 1016.0 L1651.2 1013.6 L1652.0 1011.3 L1652.9 1008.9 L1653.7 1006.6 L1654.6 1004.2 L1655.5 1001.9 L1656.3 999.5 L1657.2 997.2 L1658.0 994.8 L1658.9 992.5 L1659.7 990.1 L1660.6 987.8 L1661.4 985.4 L1662.2 983.1 L1663.0 980.7 L1663.8 978.3 L1664.6 975.9 L1665.3 973.6 L1666.1 971.2 L1666.9 968.8 L1667.6 966.4 L1668.4 964.0 L1669.1 961.6 L1669.8 959.2 L1670.5 956.9 L1671.2 954.5 L1671.9 952.1 L1672.6 949.7 L1673.3 947.2 L1674.0 944.8 L1674.7 942.4 L1675.3 940.0 L1676.0 937.6 L1676.6 935.2 L1677.2 932.8 L1677.8 930.3 L1678.4 927.9 L1679.0 925.5 L1679.5 923.0 L1680.1 920.6 L1680.7 918.2 L1681.2 915.7 L1681.8 913.3 L1682.3 910.9 L1682.9 908.4 L1683.4 906.0 L1684.0 903.5 L1684.6 901.1 L1685.1 898.7 L1685.7 896.2 L1686.3 893.8 L1686.9 891.4 L1687.4 888.9 L1688.0 886.5 L1688.6 884.1 L1689.1 881.6 L1689.7 879.2 L1690.3 876.8 L1690.9 874.3 L1691.4 871.9 L1692.0 869.5 L1692.6 867.0 L1693.2 864.6 L1693.7 862.2 L1694.3 859.7 L1694.9 857.3 L1695.4 854.9 L1695.9 852.4 L1696.5 850.0 L1697.0 847.5 L1697.5 845.1 L1697.9 842.6 L1698.4 840.2 L1698.9 837.7 L1699.4 835.3 L1699.8 832.8 L1700.3 830.3 L1700.8 827.9 L1701.3 825.4 L1701.8 823.0 L1702.3 820.6 L1702.9 818.1 L1703.4 815.7 L1704.0 813.2 L1704.5 810.8 L1705.1 808.4 L1705.6 805.9 L1706.2 803.5 L1706.8 801.1 L1707.4 798.6 L1708.1 796.2 L1708.7 793.8 L1709.4 791.4 L1710.0 789.0 L1710.7 786.6 L1711.4 784.2 L1712.2 781.8 L1713.0 779.4 L1713.9 777.1 L1714.8 774.8 L1715.9 772.5 L1717.0 770.3 L1718.4 768.2 L1719.9 766.4 L1721.7 765.1 L1723.6 764.8 L1725.4 765.6 L1727.1 767.2 L1728.5 769.2 L1729.8 771.4 L1730.9 773.6 L1731.8 775.9 L1732.7 778.2 L1733.5 780.6 L1734.1 783.0 L1734.7 785.4 L1735.3 787.9 L1735.9 790.3 L1736.4 792.8 L1736.9 795.2 L1737.4 797.7 L1737.8 800.1 L1738.3 802.6 L1738.7 805.0 L1739.1 807.5 L1739.5 810.0 L1739.8 812.4 L1740.2 814.9 L1740.6 817.4 L1741.0 819.9 L1741.4 822.3 L1741.8 824.8 L1742.2 827.3 L1742.6 829.7 L1743.1 832.2 L1743.5 834.6 L1743.9 837.1 L1744.3 839.6 L1744.7 842.0 L1745.2 844.5 L1745.6 847.0 L1746.0 849.4 L1746.4 851.9 L1746.8 854.4 L1747.2 856.8 L1747.7 859.3 L1748.1 861.8 L1748.5 864.2 L1748.9 866.7 L1749.3 869.2 L1749.7 871.6 L1750.1 874.1 L1750.5 876.6 L1750.9 879.0 L1751.2 881.5 L1751.6 884.0 L1751.9 886.5 L1752.2 888.9 L1752.5 891.4 L1752.8 893.9 L1753.2 896.4 L1753.5 898.9 L1753.8 901.3 L1754.2 903.8 L1754.5 906.3 L1754.9 908.8 L1755.3 911.2 L1755.6 913.7 L1756.0 916.2 L1756.4 918.6 L1756.8 921.1 L1757.3 923.6 L1757.7 926.0 L1758.1 928.5 L1758.6 931.0 L1759.0 933.4 L1759.5 935.9 L1760.1 938.3 L1760.6 940.8 L1761.2 943.2 L1761.8 945.6 L1762.4 948.0 L1763.0 950.5 L1763.6 952.9 L1764.1 955.3 L1764.7 957.8 L1765.3 960.2 L1765.8 962.6 L1766.3 965.1 L1766.7 967.6 L1767.2 970.0 L1767.6 972.5 L1768.0 974.9 L1768.4 977.4 L1768.8 979.9 L1769.2 982.3 L1769.6 984.8 L1770.0 987.3 L1770.4 989.8 L1770.8 992.2 L1771.1 994.7 L1771.5 997.2 L1771.9 999.6 L1772.3 1002.1 L1772.7 1004.6 L1773.1 1007.0 L1773.5 1009.5 L1774.0 1012.0 L1774.4 1014.4 L1774.8 1016.9 L1775.3 1019.3 L1775.8 1021.8 L1776.2 1024.3 L1776.7 1026.7 L1777.1 1029.2 L1777.6 1031.6 L1778.1 1034.1 L1778.5 1036.5 L1779.0 1039.0 L1779.5 1041.4 L1780.0 1043.9 L1780.5 1046.3 L1781.1 1048.8 L1781.6 1051.2 L1782.2 1053.7 L1782.8 1056.1 L1783.4 1058.5 L1784.1 1060.9 L1784.7 1063.3 L1785.5 1065.7 L1786.2 1068.1 L1787.0 1070.5 L1787.8 1072.8 L1788.6 1075.2 L1789.4 1077.6 L1790.3 1079.9 L1791.1 1082.3 L1791.9 1084.7 L1792.7 1087.0 L1793.5 1089.4 L1794.3 1091.8 L1795.1 1094.1 L1795.9 1096.5 L1796.7 1098.9 L1797.6 1101.2 L1798.5 1103.5 L1799.5 1105.8 L1800.6 1108.1 L1801.8 1110.3 L1803.0 1112.4 L1804.4 1114.5 L1805.8 1116.6 L1807.2 1118.6 L1808.8 1120.6 L1810.5 1122.4 L1812.2 1124.2 L1814.1 1125.8 L1816.1 1127.3 L1818.2 1128.7 L1820.3 1130.0 L1822.5 1131.2 L1824.8 1132.2 L1827.1 1133.1 L1829.5 1133.9 L1831.9 1134.6 L1834.3 1135.2 L1836.7 1135.6 L1839.2 1135.8 L1841.7 1135.7 L1844.1 1135.3 L1846.5 1134.7 L1848.9 1133.9 L1851.2 1133.0 L1853.5 1132.0 L1855.7 1130.8 L1857.9 1129.5 L1859.8 1128.0 L1861.7 1126.4 L1863.6 1124.7 L1865.4 1123.0 L1867.2 1121.3 L1869.0 1119.6 L1870.8 1117.8 L1872.6 1116.1 L1874.4 1114.3 L1876.1 1112.5 L1877.9 1110.8 L1879.8 1109.2 L1881.8 1107.6 L1883.8 1106.2 L1885.9 1104.8 L1888.1 1103.6 L1890.3 1102.4 L1892.5 1101.4 L1894.9 1100.7 L1897.3 1100.4 L1899.7 1100.5 L1902.1 1101.1 L1904.4 1102.0 L1906.6 1103.1 L1908.8 1104.4 L1910.9 1105.7 L1913.0 1107.1 L1914.9 1108.6 L1916.8 1110.3 L1918.6 1112.0 L1920.4 1113.8 L1922.1 1115.6 L1923.7 1117.5 L1925.3 1119.4 L1927.0 1121.3 L1928.5 1123.2 L1930.1 1125.2 L1931.6 1127.2 L1933.0 1129.2 L1934.5 1131.3 L1935.9 1133.3 L1937.4 1135.4 L1938.8 1137.4 L1940.2 1139.5 L1941.7 1141.5 L1943.1 1143.5 L1944.5 1145.6 L1946.0 1147.6 L1947.4 1149.7 L1948.8 1151.8 L1950.3 1153.8 L1951.7 1155.8 L1953.2 1157.9 L1954.7 1159.9 L1956.1 1161.9 L1957.6 1163.9 L1959.1 1165.9 L1960.6 1167.9 L1962.2 1169.9 L1963.7 1171.8 L1965.3 1173.8 L1966.9 1175.7 L1968.5 1177.6 L1970.2 1179.4 L1971.9 1181.3 L1973.6 1183.1 L1975.4 1184.9 L1977.1 1186.6 L1979.0 1188.3 L1980.9 1190.0 L1982.8 1191.5 L1984.8 1193.1 L1986.8 1194.6 L1988.8 1196.0 L1990.9 1197.3 L1993.1 1198.5 L1995.4 1199.5 L1997.8 1200.3 L2000.1 1201.0 L2002.6 1201.7 L2005.0 1202.1 L2007.5 1202.5 L2010.0 1202.6 L2012.5 1202.5 L2014.9 1202.3 L2017.4 1202.0 L2019.9 1201.6 L2022.4 1201.2 L2024.8 1200.7 L2027.2 1200.1 L2029.6 1199.3 L2031.9 1198.4 L2034.2 1197.5 L2036.5 1196.5 L2038.9 1195.6 L2041.2 1194.8 L2043.6 1194.0 L2046.0 1193.2 L2048.4 1192.5 L2050.8 1191.9 L2053.2 1191.4 L2055.7 1191.0 L2058.2 1190.8 L2060.7 1190.7 L2063.2 1190.7 L2065.7 1190.6 L2068.2 1190.6 L2070.7 1190.5 L2073.2 1190.5 L2075.7 1190.5 L2078.2 1190.4 L2080.6 1190.4 L2083.1 1190.4 L2085.2 1190.4 L2088.0 1190.4"/>
<path stroke="#0a800a" d="M393.0 1232.4 L396.0 1232.4 L398.1 1232.4 L400.5 1232.4 L403.0 1232.4 L405.5 1232.4 L408.0 1232.4 L410.5 1232.4 L413.0 1232.4 L415.5 1232.4 L418.0 1232.4 L420.5 1232.4 L423.0 1232.4 L425.5 1232.4 L428.0 1232.4 L430.5 1232.4 L433.0 1232.4 L435.5 1232.4 L438.0 1232.4 L440.5 1232.4 L443.0 1232.4 L445.5 1232.4 L448.0 1232.4 L450.5 1232.4 L453.0 1232.4 L455.5 1232.4 L458.0 1232.4 L460.5 1232.4 L463.0 1232.4 L465.5 1232.4 L468.0 1232.4 L470.5 1232.4 L473.0 1232.4 L475.5 1232.4 L478.0 1232.4 L480.5 1232.4 L483.0 1232.4 L485.5 1232.4 L488.0 1232.4 L490.5 1232.4 L493.0 1232.4 L495.5 1232.4 L498.0 1232.4 L500.5 1232.4 L503.0 1232.4 L505.5 1232.4 L508.0 1232.4 L510.5 1232.4 L513.0 1232.4 L515.5 1232.4 L518.0 1232.4 L520.5 1232.3 L523.0 1232.3 L525.5 1232.3 L528.0 1232.3 L530.5 1232.3 L533.0 1232.3 L535.5 1232.3 L538.0 1232.2 L540.5 1232.2 L543.0 1232.2 L545.5 1232.2 L548.0 1232.2 L550.5 1232.2 L553.0 1232.1 L555.5 1232.1 L558.0 1232.1 L560.5 1232.1 L563.0 1232.0 L565.5 1232.0 L568.0 1232.0 L570.5 1231.9 L573.0 1231.9 L575.5 1231.8 L578.0 1231.7 L580.5 1231.7 L583.0 1231.6 L585.5 1231.5 L588.0 1231.4 L590.5 1231.3 L593.0 1231.2 L595.5 1231.2 L598.0 1231.1 L600.5 1231.0 L603.0 1230.9 L605.5 1230.8 L608.0 1230.7 L610.5 1230.6 L613.0 1230.5 L615.5 1230.4 L618.0 1230.3 L620.5 1230.2 L623.0 1230.1 L625.5 1230.1 L628.0 1230.0 L630.5 1229.9 L633.0 1229.8 L635.5 1229.7 L638.0 1229.6 L640.4 1229.4 L642.9 1229.2 L645.4 1228.8 L647.8 1228.4 L650.3 1227.7 L652.6 1227.0 L655.0 1226.2 L657.4 1225.4 L659.7 1224.5 L662.1 1223.7 L664.5 1222.9 L666.8 1222.2 L669.2 1221.5 L671.6 1220.7 L674.0 1220.0 L676.4 1219.3 L678.8 1218.6 L681.2 1217.9 L683.7 1217.4 L686.1 1216.9 L688.6 1216.4 L691.0 1216.1 L693.5 1215.8 L696.0 1215.5 L698.5 1215.2 L701.0 1215.0 L703.5 1214.8 L706.0 1214.6 L708.5 1214.4 L710.9 1214.3 L713.4 1214.1 L715.9 1214.0 L718.4 1213.9 L720.9 1213.8 L723.4 1213.7 L725.9 1213.6 L728.4 1213.4 L730.9 1213.3 L733.4 1213.1 L735.9 1212.8 L738.4 1212.4 L740.8 1212.0 L743.3 1211.5 L745.7 1211.0 L748.1 1210.4 L750.5 1209.7 L752.9 1208.9 L755.3 1208.1 L757.6 1207.2 L759.9 1206.3 L762.2 1205.3 L764.5 1204.3 L766.8 1203.3 L769.1 1202.3 L771.4 1201.3 L773.7 1200.3 L776.0 1199.3 L778.3 1198.3 L780.5 1197.3 L782.8 1196.2 L785.1 1195.2 L787.4 1194.2 L789.7 1193.3 L792.1 1192.5 L794.5 1191.8 L796.9 1191.2 L799.4 1190.7 L801.8 1190.3 L804.3 1189.9 L806.7 1189.5 L809.2 1189.0 L811.7 1188.6 L814.1 1188.2 L816.6 1187.8 L819.1 1187.3 L821.5 1186.8 L823.9 1186.1 L826.3 1185.3 L828.6 1184.4 L830.8 1183.4 L833.1 1182.3 L835.3 1181.1 L837.5 1180.0 L839.8 1178.9 L842.0 1177.8 L844.3 1176.7 L846.5 1175.7 L848.8 1174.5 L851.0 1173.4 L853.1 1172.1 L855.2 1170.8 L857.3 1169.4 L859.3 1167.9 L861.3 1166.4 L863.2 1164.8 L865.1 1163.1 L866.9 1161.4 L868.8 1159.7 L870.6 1158.0 L872.3 1156.2 L874.1 1154.5 L875.8 1152.7 L877.6 1150.9 L879.3 1149.0 L881.0 1147.2 L882.7 1145.4 L884.4 1143.5 L886.0 1141.7 L887.7 1139.8 L889.4 1137.9 L891.1 1136.1 L892.7 1134.2 L894.4 1132.4 L896.2 1130.6 L897.9 1128.8 L899.6 1127.0 L901.4 1125.2 L903.2 1123.5 L905.0 1121.7 L906.8 1120.1 L908.7 1118.4 L910.6 1116.8 L912.6 1115.2 L914.5 1113.7 L916.5 1112.2 L918.6 1110.8 L920.7 1109.4 L922.8 1108.1 L925.0 1106.9 L927.2 1105.8 L929.5 1104.9 L931.9 1104.1 L934.3 1103.5 L936.8 1103.0 L939.2 1102.6 L941.7 1102.3 L944.2 1102.1 L946.7 1102.0 L949.1 1102.2 L951.6 1102.6 L953.9 1103.2 L956.3 1104.1 L958.5 1105.2 L960.7 1106.3 L962.9 1107.6 L964.9 1109.0 L966.9 1110.5 L968.9 1112.0 L970.8 1113.7 L972.6 1115.4 L974.4 1117.1 L976.1 1119.0 L977.7 1120.8 L979.3 1122.7 L981.0 1124.6 L982.6 1126.6 L984.1 1128.5 L985.7 1130.5 L987.2 1132.4 L988.8 1134.4 L990.3 1136.4 L991.8 1138.4 L993.3 1140.4 L994.8 1142.4 L996.4 1144.3 L997.9 1146.3 L999.4 1148.3 L1000.9 1150.3 L1002.4 1152.3 L1004.0 1154.2 L1005.6 1156.2 L1007.2 1158.1 L1008.8 1160.0 L1010.4 1161.9 L1012.1 1163.8 L1013.8 1165.6 L1015.4 1167.5 L1017.1 1169.3 L1018.8 1171.2 L1020.5 1173.0 L1022.2 1174.8 L1023.9 1176.7 L1025.7 1178.5 L1027.4 1180.2 L1029.2 1181.9 L1031.1 1183.6 L1032.9 1185.3 L1034.8 1186.9 L1036.8 1188.5 L1038.7 1190.1 L1040.7 1191.6 L1042.7 1193.1 L1044.8 1194.5 L1046.8 1195.9 L1048.9 1197.3 L1051.0 1198.6 L1053.2 1199.9 L1055.3 1201.2 L1057.5 1202.4 L1059.7 1203.5 L1062.0 1204.6 L1064.2 1205.7 L1066.5 1206.7 L1068.8 1207.6 L1071.2 1208.5 L1073.5 1209.4 L1075.9 1210.2 L1078.2 1211.0 L1080.6 1211.8 L1083.0 1212.5 L1085.4 1213.2 L1087.8 1213.9 L1090.2 1214.5 L1092.6 1215.2 L1095.1 1215.8 L1097.5 1216.4 L1099.9 1217.0 L1102.3 1217.6 L1104.8 1218.2 L1107.2 1218.8 L1109.6 1219.3 L1112.1 1219.8 L1114.5 1220.3 L1117.0 1220.8 L1119.5 1221.2 L1121.9 1221.6 L1124.4 1222.0 L1126.9 1222.3 L1129.4 1222.6 L1131.8 1222.9 L1134.3 1223.2 L1136.8 1223.5 L1139.3 1223.8 L1141.8 1224.1 L1144.3 1224.3 L1146.8 1224.6 L1149.2 1224.8 L1151.7 1225.0 L1154.2 1225.3 L1156.7 1225.5 L1159.2 1225.8 L1161.7 1226.0 L1164.2 1226.2 L1166.7 1226.5 L1169.2 1226.7 L1171.6 1226.9 L1174.1 1227.1 L1176.6 1227.3 L1179.1 1227.5 L1181.6 1227.7 L1184.1 1227.9 L1186.6 1228.1 L1189.1 1228.3 L1191.6 1228.5 L1194.1 1228.6 L1196.6 1228.8 L1199.1 1228.9 L1201.6 1229.1 L1204.1 1229.2 L1206.6 1229.4 L1209.0 1229.5 L1211.5 1229.7 L1214.0 1229.8 L1216.5 1229.9 L1219.0 1230.1 L1221.5 1230.2 L1224.0 1230.4 L1226.5 1230.5 L1229.0 1230.6 L1231.5 1230.7 L1234.0 1230.8 L1236.5 1231.0 L1239.0 1231.1 L1241.5 1231.1 L1244.0 1231.2 L1246.5 1231.3 L1249.0 1231.4 L1251.5 1231.4 L1254.0 1231.4 L1256.5 1231.5 L1259.0 1231.5 L1261.5 1231.5 L1264.0 1231.5 L1266.5 1231.5 L1269.0 1231.5 L1271.5 1231.5 L1274.0 1231.5 L1276.5 1231.5 L1279.0 1231.5 L1281.5 1231.5 L1284.0 1231.5 L1286.5 1231.5 L1289.0 1231.5 L1291.5 1231.5 L1294.0 1231.5 L1296.5 1231.5 L1299.0 1231.5 L1301.5 1231.5 L1304.0 1231.5 L1306.5 1231.5 L1309.0 1231.5 L1311.5 1231.5 L1314.0 1231.5 L1316.5 1231.5 L1319.0 1231.5 L1321.5 1231.5 L1324.0 1231.5 L1326.5 1231.5 L1329.0 1231.5 L1331.5 1231.5 L1334.0 1231.5 L1336.5 1231.5 L1339.0 1231.5 L1341.5 1231.5 L1344.0 1231.5 L1346.5 1231.5 L1349.0 1231.5 L1351.5 1231.5 L1354.0 1231.5 L1356.5 1231.5 L1359.0 1231.5 L1361.5 1231.5 L1364.0 1231.5 L1366.5 1231.5 L1369.0 1231.5 L1371.5 1231.5 L1374.0 1231.5 L1376.5 1231.5 L1379.0 1231.5 L1381.5 1231.5 L1384.0 1231.5 L1386.5 1231.5 L1389.0 1231.5 L1391.5 1231.5 L1394.0 1231.5 L1396.5 1231.5 L1399.0 1231.5 L1401.5 1231.5 L1404.0 1231.5 L1406.4 1231.5 L1408.7 1231.5 L1410.6 1231.5 L1413.0 1231.5"/>
<path stroke="#0a800a" d="M1441.0 1231.6 L1443.8 1231.4 L1446.0 1231.2 L1448.5 1231.0 L1451.0 1230.8 L1453.5 1230.5 L1455.9 1230.2 L1458.4 1229.9 L1460.9 1229.6 L1463.4 1229.3 L1465.9 1229.0 L1468.3 1228.6 L1470.8 1228.2 L1473.3 1227.8 L1475.7 1227.4 L1478.2 1227.0 L1480.7 1226.6 L1483.1 1226.2 L1485.6 1225.8 L1488.1 1225.3 L1490.5 1224.9 L1493.0 1224.4 L1495.4 1223.9 L1497.9 1223.4 L1500.3 1222.9 L1502.7 1222.3 L1505.2 1221.7 L1507.6 1221.1 L1510.0 1220.4 L1512.4 1219.7 L1514.8 1219.1 L1517.2 1218.3 L1519.6 1217.6 L1522.0 1216.8 L1524.3 1216.0 L1526.7 1215.2 L1529.0 1214.3 L1531.3 1213.3 L1533.6 1212.3 L1535.9 1211.3 L1538.2 1210.3 L1540.5 1209.3 L1542.7 1208.2 L1545.0 1207.1 L1547.2 1205.9 L1549.4 1204.7 L1551.6 1203.5 L1553.7 1202.2 L1555.8 1200.9 L1557.9 1199.4 L1559.9 1198.0 L1561.8 1196.4 L1563.8 1194.8 L1565.6 1193.1 L1567.4 1191.4 L1569.2 1189.7 L1570.9 1187.9 L1572.7 1186.1 L1574.3 1184.2 L1576.0 1182.3 L1577.6 1180.4 L1579.2 1178.5 L1580.8 1176.6 L1582.3 1174.6 L1583.8 1172.6 L1585.2 1170.5 L1586.7 1168.5 L1588.1 1166.4 L1589.5 1164.3 L1590.8 1162.2 L1592.2 1160.2 L1593.5 1158.0 L1594.9 1155.9 L1596.2 1153.8 L1597.5 1151.7 L1598.8 1149.6 L1600.1 1147.4 L1601.3 1145.2 L1602.6 1143.1 L1603.8 1140.9 L1605.0 1138.7 L1606.2 1136.5 L1607.4 1134.3 L1608.6 1132.1 L1609.8 1129.9 L1611.0 1127.7 L1612.2 1125.5 L1613.4 1123.4 L1614.6 1121.2 L1615.9 1119.0 L1617.1 1116.8 L1618.3 1114.6 L1619.5 1112.5 L1620.8 1110.3 L1622.0 1108.1 L1623.2 1105.9 L1624.5 1103.7 L1625.7 1101.6 L1626.9 1099.4 L1628.1 1097.2 L1629.3 1095.0 L1630.5 1092.8 L1631.7 1090.6 L1632.8 1088.4 L1634.0 1086.2 L1635.2 1084.0 L1636.3 1081.7 L1637.5 1079.5 L1638.6 1077.3 L1639.7 1075.1 L1640.9 1072.8 L1642.0 1070.6 L1643.1 1068.4 L1644.2 1066.1 L1645.3 1063.8 L1646.3 1061.6 L1647.4 1059.3 L1648.4 1057.0 L1649.4 1054.8 L1650.4 1052.5 L1651.4 1050.2 L1652.4 1047.9 L1653.3 1045.6 L1654.3 1043.2 L1655.2 1040.9 L1656.1 1038.6 L1657.0 1036.3 L1657.9 1033.9 L1658.8 1031.6 L1659.8 1029.3 L1660.7 1026.9 L1661.6 1024.6 L1662.5 1022.3 L1663.4 1020.0 L1664.3 1017.6 L1665.2 1015.3 L1666.2 1013.0 L1667.1 1010.7 L1668.1 1008.4 L1669.0 1006.1 L1670.0 1003.8 L1671.0 1001.4 L1671.9 999.1 L1672.9 996.8 L1673.9 994.5 L1674.8 992.2 L1675.8 989.9 L1676.8 987.6 L1677.8 985.3 L1678.7 983.0 L1679.7 980.7 L1680.7 978.4 L1681.7 976.1 L1682.6 973.8 L1683.6 971.5 L1684.6 969.2 L1685.6 966.9 L1686.5 964.6 L1687.5 962.3 L1688.5 960.0 L1689.4 957.7 L1690.4 955.4 L1691.4 953.1 L1692.4 950.8 L1693.3 948.5 L1694.3 946.2 L1695.3 943.9 L1696.2 941.6 L1697.2 939.2 L1698.1 936.9 L1699.1 934.6 L1700.0 932.3 L1700.9 930.0 L1701.8 927.7 L1702.8 925.3 L1703.7 923.0 L1704.6 920.7 L1705.5 918.4 L1706.5 916.0 L1707.4 913.7 L1708.3 911.4 L1709.3 909.1 L1710.2 906.8 L1711.1 904.4 L1712.0 902.1 L1712.9 899.8 L1713.9 897.5 L1714.8 895.2 L1715.9 892.9 L1716.9 890.6 L1718.1 888.4 L1719.3 886.2 L1720.7 884.2 L1722.3 882.6 L1724.0 881.9 L1725.8 882.4 L1727.4 883.9 L1729.0 885.8 L1730.4 887.8 L1731.6 890.0 L1732.8 892.2 L1733.8 894.5 L1734.7 896.8 L1735.5 899.2 L1736.3 901.5 L1737.0 903.9 L1737.7 906.3 L1738.4 908.7 L1739.0 911.1 L1739.7 913.6 L1740.3 916.0 L1740.9 918.4 L1741.6 920.8 L1742.3 923.2 L1742.9 925.6 L1743.6 928.0 L1744.3 930.4 L1744.9 932.9 L1745.5 935.3 L1746.0 937.7 L1746.5 940.2 L1747.0 942.6 L1747.4 945.1 L1747.8 947.6 L1748.3 950.0 L1748.7 952.5 L1749.1 955.0 L1749.5 957.4 L1749.9 959.9 L1750.3 962.4 L1750.7 964.8 L1751.2 967.3 L1751.6 969.8 L1752.0 972.2 L1752.5 974.7 L1753.0 977.1 L1753.4 979.6 L1753.9 982.0 L1754.4 984.5 L1754.9 986.9 L1755.4 989.4 L1755.8 991.8 L1756.3 994.3 L1756.8 996.8 L1757.3 999.2 L1757.8 1001.7 L1758.3 1004.1 L1758.8 1006.5 L1759.3 1009.0 L1759.8 1011.4 L1760.3 1013.9 L1760.8 1016.3 L1761.3 1018.8 L1761.8 1021.2 L1762.4 1023.7 L1762.9 1026.1 L1763.4 1028.6 L1763.9 1031.0 L1764.4 1033.5 L1765.0 1035.9 L1765.5 1038.4 L1766.1 1040.8 L1766.6 1043.2 L1767.2 1045.7 L1767.8 1048.1 L1768.5 1050.5 L1769.1 1052.9 L1769.8 1055.3 L1770.5 1057.7 L1771.2 1060.1 L1771.9 1062.5 L1772.6 1064.9 L1773.4 1067.3 L1774.2 1069.7 L1775.0 1072.0 L1775.7 1074.4 L1776.5 1076.8 L1777.3 1079.2 L1778.0 1081.5 L1778.8 1083.9 L1779.6 1086.3 L1780.3 1088.7 L1781.0 1091.1 L1781.8 1093.5 L1782.5 1095.9 L1783.2 1098.3 L1784.0 1100.6 L1784.8 1103.0 L1785.5 1105.4 L1786.3 1107.8 L1787.2 1110.1 L1788.0 1112.5 L1788.9 1114.8 L1789.9 1117.1 L1790.9 1119.4 L1791.9 1121.7 L1793.0 1123.9 L1794.1 1126.2 L1795.2 1128.4 L1796.4 1130.6 L1797.6 1132.8 L1798.8 1135.0 L1800.1 1137.1 L1801.4 1139.3 L1802.7 1141.4 L1804.1 1143.5 L1805.4 1145.6 L1806.9 1147.6 L1808.3 1149.7 L1809.9 1151.6 L1811.5 1153.5 L1813.1 1155.4 L1814.8 1157.2 L1816.6 1159.0 L1818.4 1160.7 L1820.3 1162.3 L1822.3 1163.8 L1824.4 1165.1 L1826.6 1166.3 L1828.9 1167.4 L1831.2 1168.4 L1833.5 1169.2 L1835.9 1169.8 L1838.4 1170.2 L1840.8 1170.3 L1843.3 1170.1 L1845.8 1169.7 L1848.2 1169.1 L1850.6 1168.4 L1853.0 1167.6 L1855.3 1166.7 L1857.5 1165.6 L1859.6 1164.3 L1861.7 1162.9 L1863.6 1161.4 L1865.6 1159.8 L1867.5 1158.2 L1869.4 1156.6 L1871.4 1155.0 L1873.3 1153.4 L1875.1 1151.7 L1877.0 1150.1 L1878.9 1148.5 L1880.9 1146.9 L1882.9 1145.4 L1884.9 1144.0 L1887.0 1142.6 L1889.1 1141.3 L1891.3 1140.1 L1893.5 1139.0 L1895.8 1138.0 L1898.2 1137.2 L1900.6 1136.5 L1903.0 1136.0 L1905.4 1135.9 L1907.9 1136.2 L1910.3 1136.9 L1912.6 1137.7 L1914.9 1138.7 L1917.1 1139.8 L1919.3 1141.0 L1921.5 1142.3 L1923.5 1143.7 L1925.5 1145.2 L1927.4 1146.8 L1929.3 1148.5 L1931.1 1150.2 L1932.9 1151.9 L1934.7 1153.6 L1936.4 1155.5 L1938.1 1157.3 L1939.7 1159.2 L1941.3 1161.1 L1942.9 1163.0 L1944.5 1165.0 L1946.2 1166.9 L1947.8 1168.7 L1949.4 1170.6 L1951.1 1172.5 L1952.8 1174.4 L1954.4 1176.2 L1956.1 1178.1 L1957.7 1180.0 L1959.4 1181.8 L1961.1 1183.7 L1962.8 1185.5 L1964.5 1187.3 L1966.2 1189.1 L1968.0 1191.0 L1969.7 1192.8 L1971.5 1194.5 L1973.2 1196.3 L1975.0 1198.1 L1976.8 1199.8 L1978.6 1201.5 L1980.4 1203.3 L1982.2 1205.0 L1984.1 1206.6 L1985.9 1208.3 L1987.8 1209.9 L1989.8 1211.5 L1991.7 1213.1 L1993.8 1214.5 L1995.8 1216.0 L1997.9 1217.3 L2000.0 1218.6 L2002.2 1219.9 L2004.4 1221.0 L2006.7 1222.0 L2009.0 1222.9 L2011.4 1223.8 L2013.7 1224.6 L2016.1 1225.4 L2018.5 1226.1 L2020.9 1226.7 L2023.4 1227.2 L2025.8 1227.6 L2028.3 1227.8 L2030.8 1227.9 L2033.3 1227.8 L2035.8 1227.6 L2038.3 1227.3 L2040.7 1226.9 L2043.2 1226.5 L2045.7 1226.0 L2048.1 1225.5 L2050.5 1225.0 L2053.0 1224.4 L2055.4 1223.8 L2057.8 1223.2 L2060.2 1222.4 L2062.6 1221.6 L2064.9 1220.8 L2067.3 1220.0 L2069.7 1219.3 L2072.1 1218.7 L2074.6 1218.2 L2077.0 1217.8 L2079.5 1217.4 L2081.9 1217.1 L2084.3 1216.8 L2086.2 1216.6 L2088.0 1216.5"/>
<path stroke="#f5851a" d="M393.0 1232.4 L396.0 1232.4 L398.1 1232.4 L400.5 1232.4 L403.0 1232.4 L405.5 1232.4 L408.0 1232.4 L410.5 1232.4 L413.0 1232.4 L415.5 1232.4 L418.0 1232.4 L420.5 1232.4 L423.0 1232.4 L425.5 1232.4 L428.0 1232.4 L430.5 1232.4 L433.0 1232.4 L435.5 1232.4 L438.0 1232.4 L440.5 1232.4 L443.0 1232.4 L445.5 1232.4 L448.0 1232.4 L450.5 1232.4 L453.0 1232.4 L455.5 1232.4 L458.0 1232.4 L460.5 1232.4 L463.0 1232.4 L465.5 1232.4 L468.0 1232.4 L470.5 1232.4 L473.0 1232.4 L475.5 1232.4 L478.0 1232.4 L480.5 1232.4 L483.0 1232.4 L485.5 1232.4 L488.0 1232.4 L490.5 1232.4 L493.0 1232.4 L495.5 1232.4 L498.0 1232.4 L500.5 1232.4 L503.0 1232.4 L505.5 1232.4 L508.0 1232.4 L510.5 1232.4 L513.0 1232.4 L515.5 1232.4 L518.0 1232.3 L520.5 1232.3 L523.0 1232.3 L525.5 1232.3 L528.0 1232.3 L530.5 1232.3 L533.0 1232.3 L535.5 1232.3 L538.0 1232.3 L540.5 1232.2 L543.0 1232.2 L545.5 1232.2 L548.0 1232.2 L550.5 1232.2 L553.0 1232.2 L555.5 1232.1 L558.0 1232.1 L560.5 1232.1 L563.0 1232.1 L565.5 1232.1 L568.0 1232.0 L570.5 1232.0 L573.0 1231.9 L575.5 1231.9 L578.0 1231.8 L580.5 1231.8 L583.0 1231.7 L585.5 1231.6 L588.0 1231.6 L590.5 1231.5 L593.0 1231.4 L595.5 1231.4 L598.0 1231.3 L600.5 1231.2 L603.0 1231.1 L605.5 1231.0 L608.0 1231.0 L610.5 1230.9 L613.0 1230.8 L615.5 1230.7 L618.0 1230.7 L620.5 1230.6 L623.0 1230.5 L625.5 1230.5 L628.0 1230.4 L630.5 1230.3 L633.0 1230.2 L635.5 1230.2 L638.0 1230.1 L640.5 1229.9 L643.0 1229.7 L645.4 1229.4 L647.9 1229.0 L650.3 1228.5 L652.8 1227.9 L655.2 1227.2 L657.6 1226.5 L660.0 1225.8 L662.4 1225.1 L664.8 1224.5 L667.2 1223.9 L669.6 1223.3 L672.0 1222.6 L674.5 1222.0 L676.9 1221.4 L679.3 1220.9 L681.8 1220.3 L684.2 1219.9 L686.7 1219.5 L689.2 1219.2 L691.7 1218.9 L694.1 1218.6 L696.6 1218.4 L699.1 1218.2 L701.6 1218.0 L704.1 1217.8 L706.6 1217.7 L709.1 1217.5 L711.6 1217.4 L714.1 1217.3 L716.6 1217.2 L719.1 1217.1 L721.6 1217.0 L724.1 1216.9 L726.6 1216.8 L729.1 1216.7 L731.6 1216.6 L734.1 1216.4 L736.6 1216.1 L739.0 1215.8 L741.5 1215.5 L744.0 1215.0 L746.4 1214.6 L748.9 1214.1 L751.3 1213.5 L753.7 1212.8 L756.1 1212.1 L758.5 1211.3 L760.8 1210.5 L763.2 1209.7 L765.6 1208.9 L767.9 1208.0 L770.3 1207.2 L772.6 1206.3 L775.0 1205.5 L777.3 1204.6 L779.7 1203.7 L782.0 1202.9 L784.3 1202.0 L786.7 1201.2 L789.1 1200.4 L791.5 1199.7 L793.9 1199.1 L796.3 1198.6 L798.8 1198.1 L801.3 1197.8 L803.7 1197.4 L806.2 1197.1 L808.7 1196.7 L811.2 1196.4 L813.6 1196.0 L816.1 1195.7 L818.6 1195.3 L821.0 1194.8 L823.5 1194.3 L825.9 1193.7 L828.3 1192.9 L830.6 1192.1 L832.9 1191.1 L835.2 1190.1 L837.5 1189.2 L839.8 1188.2 L842.1 1187.3 L844.5 1186.3 L846.8 1185.4 L849.1 1184.4 L851.3 1183.3 L853.6 1182.2 L855.7 1181.0 L857.9 1179.7 L860.0 1178.3 L862.0 1176.8 L863.9 1175.2 L865.7 1173.6 L867.5 1171.9 L869.4 1170.1 L871.2 1168.4 L873.0 1166.7 L874.9 1165.1 L876.7 1163.4 L878.6 1161.7 L880.5 1160.1 L882.3 1158.4 L884.2 1156.7 L886.0 1155.0 L887.9 1153.4 L889.7 1151.7 L891.6 1150.0 L893.4 1148.3 L895.3 1146.6 L897.2 1145.0 L899.0 1143.3 L900.9 1141.6 L902.7 1140.0 L904.6 1138.3 L906.5 1136.6 L908.3 1134.9 L910.2 1133.3 L912.0 1131.6 L913.9 1129.9 L915.7 1128.2 L917.6 1126.6 L919.5 1125.0 L921.4 1123.3 L923.3 1121.7 L925.3 1120.2 L927.4 1118.9 L929.6 1117.8 L931.9 1116.9 L934.3 1116.1 L936.7 1115.5 L939.1 1114.9 L941.6 1114.5 L944.0 1114.2 L946.5 1114.1 L949.0 1114.1 L951.5 1114.2 L954.0 1114.5 L956.4 1114.9 L958.9 1115.4 L961.3 1116.0 L963.7 1116.7 L966.0 1117.6 L968.2 1118.7 L970.3 1120.0 L972.3 1121.6 L974.2 1123.2 L976.0 1124.9 L977.7 1126.7 L979.2 1128.6 L980.7 1130.7 L982.1 1132.7 L983.5 1134.8 L984.9 1136.9 L986.3 1139.0 L987.7 1141.0 L989.3 1142.9 L991.0 1144.8 L992.8 1146.5 L994.6 1148.2 L996.5 1149.8 L998.3 1151.5 L1000.1 1153.3 L1001.7 1155.2 L1003.3 1157.1 L1004.8 1159.1 L1006.3 1161.1 L1007.7 1163.2 L1009.1 1165.2 L1010.6 1167.2 L1012.1 1169.2 L1013.6 1171.2 L1015.2 1173.1 L1016.9 1175.0 L1018.6 1176.8 L1020.3 1178.6 L1022.1 1180.4 L1023.9 1182.1 L1025.7 1183.9 L1027.5 1185.5 L1029.4 1187.2 L1031.3 1188.8 L1033.2 1190.4 L1035.2 1192.0 L1037.1 1193.5 L1039.1 1195.1 L1041.1 1196.5 L1043.2 1198.0 L1045.3 1199.4 L1047.4 1200.7 L1049.5 1202.0 L1051.6 1203.3 L1053.8 1204.5 L1056.0 1205.7 L1058.2 1206.8 L1060.5 1207.9 L1062.8 1209.0 L1065.1 1210.0 L1067.4 1210.9 L1069.7 1211.8 L1072.0 1212.7 L1074.4 1213.5 L1076.8 1214.4 L1079.1 1215.1 L1081.5 1215.9 L1083.9 1216.6 L1086.3 1217.3 L1088.7 1217.9 L1091.1 1218.6 L1093.6 1219.2 L1096.0 1219.7 L1098.4 1220.3 L1100.9 1220.8 L1103.3 1221.4 L1105.8 1221.9 L1108.2 1222.4 L1110.7 1222.8 L1113.1 1223.3 L1115.6 1223.7 L1118.1 1224.1 L1120.6 1224.4 L1123.0 1224.7 L1125.5 1225.1 L1128.0 1225.3 L1130.5 1225.6 L1133.0 1225.9 L1135.5 1226.1 L1137.9 1226.4 L1140.4 1226.6 L1142.9 1226.8 L1145.4 1227.0 L1147.9 1227.2 L1150.4 1227.4 L1152.9 1227.6 L1155.4 1227.8 L1157.9 1228.0 L1160.4 1228.2 L1162.9 1228.4 L1165.4 1228.5 L1167.8 1228.7 L1170.3 1228.9 L1172.8 1229.1 L1175.3 1229.2 L1177.8 1229.4 L1180.3 1229.5 L1182.8 1229.7 L1185.3 1229.8 L1187.8 1230.0 L1190.3 1230.1 L1192.8 1230.2 L1195.3 1230.3 L1197.8 1230.4 L1200.3 1230.5 L1202.8 1230.6 L1205.3 1230.7 L1207.8 1230.8 L1210.3 1230.9 L1212.8 1231.0 L1215.3 1231.0 L1217.8 1231.1 L1220.3 1231.2 L1222.8 1231.3 L1225.3 1231.4 L1227.8 1231.5 L1230.3 1231.5 L1232.8 1231.6 L1235.3 1231.7 L1237.8 1231.7 L1240.3 1231.8 L1242.8 1231.8 L1245.3 1231.9 L1247.8 1231.9 L1250.3 1231.9 L1252.8 1232.0 L1255.3 1232.0 L1257.8 1232.0 L1260.3 1232.0 L1262.8 1232.0 L1265.3 1232.0 L1267.8 1232.0 L1270.3 1232.0 L1272.8 1232.0 L1275.3 1232.0 L1277.8 1232.0 L1280.3 1232.0 L1282.8 1232.0 L1285.3 1232.0 L1287.8 1232.0 L1290.3 1232.0 L1292.8 1232.0 L1295.3 1232.0 L1297.8 1232.0 L1300.3 1232.0 L1302.8 1232.0 L1305.3 1232.0 L1307.8 1232.0 L1310.3 1232.0 L1312.8 1232.0 L1315.3 1232.0 L1317.8 1232.0 L1320.3 1232.0 L1322.8 1232.0 L1325.3 1232.0 L1327.8 1232.0 L1330.3 1232.0 L1332.8 1232.0 L1335.3 1232.0 L1337.8 1232.0 L1340.3 1232.0 L1342.8 1232.0 L1345.3 1232.0 L1347.8 1232.0 L1350.3 1232.0 L1352.8 1232.0 L1355.3 1232.0 L1357.8 1232.0 L1360.3 1232.0 L1362.8 1232.0 L1365.3 1232.0 L1367.8 1232.0 L1370.3 1232.0 L1372.8 1232.0 L1375.3 1232.0 L1377.8 1232.0 L1380.3 1232.0 L1382.8 1232.0 L1385.3 1232.0 L1387.8 1232.0 L1390.3 1232.0 L1392.8 1232.0 L1395.3 1232.0 L1397.8 1232.0 L1400.3 1232.0 L1402.8 1232.0 L1405.3 1232.0 L1407.7 1232.0 L1409.8 1232.0 L1411.4 1232.0 L1413.0 1232.0"/>
<path stroke="#f5851a" d="M1441.0 1233.0 L1443.8 1232.9 L1446.1 1232.7 L1448.5 1232.6 L1451.0 1232.4 L1453.5 1232.2 L1456.0 1232.0 L1458.5 1231.8 L1460.9 1231.6 L1463.4 1231.3 L1465.9 1231.0 L1468.4 1230.8 L1470.9 1230.5 L1473.4 1230.2 L1475.8 1229.9 L1478.3 1229.6 L1480.8 1229.2 L1483.3 1228.9 L1485.8 1228.6 L1488.2 1228.2 L1490.7 1227.9 L1493.2 1227.5 L1495.7 1227.1 L1498.1 1226.7 L1500.6 1226.3 L1503.0 1225.8 L1505.5 1225.3 L1507.9 1224.8 L1510.4 1224.3 L1512.8 1223.7 L1515.3 1223.2 L1517.7 1222.6 L1520.1 1221.9 L1522.5 1221.3 L1524.9 1220.6 L1527.3 1219.8 L1529.7 1219.0 L1532.0 1218.2 L1534.4 1217.4 L1536.7 1216.5 L1539.1 1215.7 L1541.5 1214.9 L1543.8 1214.1 L1546.2 1213.4 L1548.6 1212.6 L1551.0 1211.8 L1553.3 1211.0 L1555.7 1210.1 L1558.0 1209.1 L1560.2 1208.1 L1562.5 1207.0 L1564.7 1205.8 L1566.9 1204.6 L1569.0 1203.3 L1571.1 1202.0 L1573.2 1200.6 L1575.3 1199.2 L1577.3 1197.7 L1579.2 1196.1 L1581.1 1194.4 L1582.9 1192.7 L1584.7 1191.0 L1586.4 1189.2 L1588.1 1187.3 L1589.8 1185.5 L1591.5 1183.7 L1593.2 1181.8 L1594.9 1180.0 L1596.6 1178.2 L1598.4 1176.4 L1600.1 1174.6 L1601.8 1172.8 L1603.5 1170.9 L1605.2 1169.1 L1606.9 1167.3 L1608.6 1165.5 L1610.4 1163.7 L1612.1 1161.9 L1613.9 1160.2 L1615.8 1158.5 L1617.6 1156.8 L1619.5 1155.1 L1621.4 1153.5 L1623.3 1151.9 L1625.2 1150.3 L1627.1 1148.7 L1629.1 1147.1 L1631.0 1145.5 L1632.9 1143.9 L1634.9 1142.4 L1636.9 1140.8 L1638.8 1139.3 L1640.8 1137.8 L1642.8 1136.3 L1644.8 1134.7 L1646.7 1133.2 L1648.7 1131.6 L1650.5 1129.9 L1652.4 1128.2 L1654.2 1126.5 L1655.9 1124.7 L1657.6 1122.9 L1659.3 1121.0 L1661.0 1119.2 L1662.6 1117.2 L1664.1 1115.3 L1665.6 1113.3 L1667.1 1111.3 L1668.5 1109.2 L1669.9 1107.1 L1671.2 1105.0 L1672.5 1102.8 L1673.7 1100.7 L1674.9 1098.5 L1676.1 1096.3 L1677.3 1094.1 L1678.5 1091.9 L1679.7 1089.7 L1680.9 1087.5 L1682.0 1085.3 L1683.1 1083.0 L1684.2 1080.8 L1685.3 1078.6 L1686.4 1076.3 L1687.5 1074.1 L1688.6 1071.8 L1689.7 1069.5 L1690.7 1067.3 L1691.8 1065.0 L1692.8 1062.7 L1693.8 1060.5 L1694.8 1058.2 L1695.8 1055.9 L1696.8 1053.6 L1697.8 1051.3 L1698.8 1049.0 L1699.8 1046.7 L1700.8 1044.4 L1701.8 1042.1 L1702.8 1039.8 L1703.8 1037.5 L1704.8 1035.2 L1705.8 1032.9 L1706.7 1030.6 L1707.7 1028.3 L1708.7 1026.0 L1709.7 1023.7 L1710.7 1021.5 L1711.8 1019.2 L1712.9 1016.9 L1714.0 1014.7 L1715.3 1012.6 L1716.6 1010.5 L1718.1 1008.4 L1719.7 1006.6 L1721.6 1005.1 L1723.7 1004.1 L1725.9 1003.9 L1728.0 1004.6 L1730.0 1005.9 L1731.7 1007.6 L1733.2 1009.6 L1734.5 1011.7 L1735.7 1013.9 L1736.8 1016.2 L1737.7 1018.5 L1738.6 1020.8 L1739.4 1023.2 L1740.2 1025.6 L1740.9 1028.0 L1741.6 1030.3 L1742.3 1032.7 L1743.0 1035.1 L1743.7 1037.5 L1744.4 1039.9 L1745.2 1042.3 L1745.9 1044.7 L1746.6 1047.1 L1747.3 1049.5 L1748.0 1051.9 L1748.7 1054.3 L1749.3 1056.7 L1750.1 1059.1 L1750.8 1061.5 L1751.5 1063.9 L1752.2 1066.3 L1753.0 1068.7 L1753.7 1071.1 L1754.5 1073.5 L1755.2 1075.9 L1756.0 1078.3 L1756.7 1080.6 L1757.4 1083.0 L1758.2 1085.4 L1758.9 1087.8 L1759.6 1090.2 L1760.3 1092.6 L1761.0 1095.0 L1761.8 1097.4 L1762.5 1099.8 L1763.2 1102.2 L1764.0 1104.6 L1764.7 1106.9 L1765.5 1109.3 L1766.3 1111.7 L1767.1 1114.1 L1767.9 1116.4 L1768.7 1118.8 L1769.5 1121.2 L1770.3 1123.5 L1771.2 1125.9 L1772.0 1128.2 L1772.9 1130.6 L1773.9 1132.9 L1774.8 1135.2 L1775.8 1137.5 L1776.8 1139.7 L1777.9 1142.0 L1779.0 1144.3 L1780.1 1146.5 L1781.3 1148.7 L1782.4 1150.9 L1783.6 1153.1 L1784.9 1155.3 L1786.1 1157.5 L1787.4 1159.6 L1788.7 1161.7 L1790.1 1163.8 L1791.4 1165.9 L1792.8 1168.0 L1794.3 1170.0 L1795.8 1172.0 L1797.3 1174.0 L1798.8 1176.0 L1800.4 1178.0 L1801.9 1179.9 L1803.6 1181.8 L1805.2 1183.7 L1807.0 1185.5 L1808.7 1187.2 L1810.6 1188.9 L1812.5 1190.5 L1814.4 1192.1 L1816.5 1193.6 L1818.5 1195.0 L1820.6 1196.3 L1822.7 1197.7 L1824.9 1198.9 L1827.1 1200.1 L1829.3 1201.3 L1831.5 1202.4 L1833.8 1203.5 L1836.1 1204.5 L1838.4 1205.4 L1840.7 1206.4 L1843.0 1207.2 L1845.4 1207.9 L1847.8 1208.2 L1850.3 1208.1 L1852.8 1207.8 L1855.2 1207.2 L1857.5 1206.5 L1859.8 1205.5 L1862.0 1204.2 L1864.0 1202.8 L1866.0 1201.3 L1867.9 1199.7 L1869.8 1198.1 L1871.7 1196.5 L1873.7 1195.0 L1875.8 1193.5 L1877.8 1192.1 L1879.9 1190.7 L1882.0 1189.4 L1884.2 1188.1 L1886.4 1187.1 L1888.7 1186.2 L1891.1 1185.3 L1893.5 1184.6 L1895.9 1184.0 L1898.3 1183.6 L1900.8 1183.5 L1903.3 1183.6 L1905.8 1183.9 L1908.2 1184.3 L1910.7 1184.9 L1913.1 1185.5 L1915.5 1186.2 L1917.9 1186.9 L1920.2 1187.8 L1922.5 1188.8 L1924.7 1189.9 L1926.9 1191.1 L1929.1 1192.3 L1931.2 1193.7 L1933.2 1195.2 L1935.1 1196.7 L1937.1 1198.3 L1939.0 1199.9 L1940.9 1201.5 L1942.9 1203.1 L1944.8 1204.7 L1946.8 1206.2 L1948.7 1207.8 L1950.7 1209.3 L1952.7 1210.8 L1954.7 1212.3 L1956.8 1213.7 L1958.9 1215.0 L1961.0 1216.3 L1963.2 1217.5 L1965.4 1218.8 L1967.6 1219.9 L1969.8 1221.0 L1972.1 1222.1 L1974.4 1223.1 L1976.7 1224.0 L1979.1 1224.8 L1981.5 1225.6 L1983.9 1226.3 L1986.3 1227.0 L1988.7 1227.6 L1991.1 1228.2 L1993.6 1228.7 L1996.0 1229.1 L1998.5 1229.3 L2001.0 1229.6 L2003.5 1229.8 L2006.0 1230.0 L2008.5 1230.2 L2011.0 1230.4 L2013.5 1230.5 L2016.0 1230.7 L2018.5 1230.8 L2021.0 1230.9 L2023.4 1231.0 L2025.9 1231.1 L2028.4 1231.2 L2030.9 1231.2 L2033.4 1231.3 L2035.9 1231.3 L2038.4 1231.3 L2040.9 1231.3 L2043.4 1231.3 L2045.9 1231.3 L2048.4 1231.3 L2050.9 1231.3 L2053.4 1231.3 L2055.9 1231.2 L2058.4 1231.2 L2060.9 1231.2 L2063.4 1231.2 L2065.9 1231.1 L2068.4 1231.1 L2070.9 1231.0 L2073.4 1230.9 L2075.9 1230.8 L2078.4 1230.8 L2080.9 1230.7 L2083.3 1230.5 L2085.5 1230.4 L2088.0 1230.3"/>
<path stroke="#ff0808" d="M393.0 1232.5 L396.0 1232.5 L398.1 1232.5 L400.5 1232.5 L403.0 1232.5 L405.5 1232.5 L408.0 1232.5 L410.5 1232.5 L413.0 1232.5 L415.5 1232.5 L418.0 1232.5 L420.5 1232.5 L423.0 1232.5 L425.5 1232.5 L428.0 1232.5 L430.5 1232.5 L433.0 1232.5 L435.5 1232.5 L438.0 1232.5 L440.5 1232.5 L443.0 1232.5 L445.5 1232.5 L448.0 1232.5 L450.5 1232.5 L453.0 1232.5 L455.5 1232.5 L458.0 1232.5 L460.5 1232.5 L463.0 1232.5 L465.5 1232.5 L468.0 1232.5 L470.5 1232.5 L473.0 1232.5 L475.5 1232.5 L478.0 1232.5 L480.5 1232.5 L483.0 1232.5 L485.5 1232.5 L488.0 1232.5 L490.5 1232.5 L493.0 1232.5 L495.5 1232.5 L498.0 1232.5 L500.5 1232.5 L503.0 1232.5 L505.5 1232.5 L508.0 1232.5 L510.5 1232.5 L513.0 1232.5 L515.5 1232.5 L518.0 1232.5 L520.5 1232.5 L523.0 1232.5 L525.5 1232.5 L528.0 1232.5 L530.5 1232.5 L533.0 1232.5 L535.5 1232.5 L538.0 1232.5 L540.5 1232.5 L543.0 1232.5 L545.5 1232.5 L548.0 1232.5 L550.5 1232.5 L553.0 1232.5 L555.5 1232.5 L558.0 1232.5 L560.5 1232.5 L563.0 1232.5 L565.5 1232.5 L568.0 1232.5 L570.5 1232.5 L573.0 1232.5 L575.5 1232.5 L578.0 1232.5 L580.5 1232.4 L583.0 1232.4 L585.5 1232.4 L588.0 1232.4 L590.5 1232.4 L593.0 1232.3 L595.5 1232.3 L598.0 1232.3 L600.5 1232.3 L603.0 1232.2 L605.5 1232.2 L608.0 1232.2 L610.5 1232.1 L613.0 1232.1 L615.5 1232.1 L618.0 1232.0 L620.5 1232.0 L623.0 1231.9 L625.5 1231.8 L628.0 1231.6 L630.5 1231.4 L633.0 1231.2 L635.5 1230.9 L637.9 1230.6 L640.4 1230.3 L642.9 1230.0 L645.4 1229.7 L647.8 1229.3 L650.3 1228.9 L652.8 1228.4 L655.2 1227.9 L657.6 1227.3 L660.1 1226.7 L662.5 1226.0 L664.9 1225.4 L667.3 1224.9 L669.8 1224.3 L672.2 1223.7 L674.6 1223.2 L677.1 1222.7 L679.5 1222.2 L682.0 1221.7 L684.5 1221.3 L686.9 1221.0 L689.4 1220.7 L691.9 1220.5 L694.4 1220.3 L696.9 1220.1 L699.4 1219.9 L701.9 1219.8 L704.4 1219.6 L706.9 1219.4 L709.4 1219.3 L711.9 1219.1 L714.4 1219.0 L716.9 1218.8 L719.3 1218.7 L721.8 1218.5 L724.3 1218.4 L726.8 1218.2 L729.3 1218.0 L731.8 1217.8 L734.3 1217.6 L736.8 1217.4 L739.3 1217.1 L741.8 1216.8 L744.2 1216.5 L746.7 1216.2 L749.2 1215.8 L751.7 1215.4 L754.1 1215.0 L756.6 1214.5 L759.0 1214.0 L761.4 1213.3 L763.8 1212.6 L766.2 1211.9 L768.6 1211.1 L770.9 1210.3 L773.3 1209.4 L775.6 1208.5 L777.9 1207.6 L780.2 1206.6 L782.5 1205.6 L784.8 1204.7 L787.1 1203.7 L789.4 1202.7 L791.7 1201.7 L794.1 1200.7 L796.4 1199.8 L798.7 1199.0 L801.1 1198.2 L803.5 1197.6 L805.9 1197.0 L808.4 1196.5 L810.8 1196.0 L813.3 1195.6 L815.8 1195.2 L818.2 1194.8 L820.7 1194.4 L823.2 1194.1 L825.7 1193.7 L828.1 1193.4 L830.6 1193.0 L833.1 1192.5 L835.5 1192.0 L838.0 1191.5 L840.4 1190.9 L842.8 1190.2 L845.2 1189.5 L847.5 1188.6 L849.8 1187.6 L852.0 1186.4 L854.1 1185.1 L856.2 1183.8 L858.3 1182.4 L860.4 1181.1 L862.5 1179.7 L864.6 1178.4 L866.7 1177.0 L868.8 1175.7 L870.9 1174.2 L872.8 1172.7 L874.8 1171.1 L876.6 1169.5 L878.5 1167.8 L880.3 1166.1 L882.2 1164.4 L884.0 1162.7 L885.9 1161.0 L887.7 1159.3 L889.6 1157.7 L891.4 1156.0 L893.3 1154.3 L895.1 1152.7 L897.0 1151.0 L898.8 1149.3 L900.7 1147.6 L902.5 1145.9 L904.4 1144.3 L906.3 1142.6 L908.2 1141.0 L910.1 1139.4 L912.1 1137.8 L914.0 1136.3 L916.0 1134.8 L918.0 1133.3 L920.0 1131.8 L922.1 1130.3 L924.1 1128.9 L926.2 1127.6 L928.4 1126.4 L930.6 1125.2 L932.9 1124.2 L935.2 1123.3 L937.6 1122.5 L940.0 1121.9 L942.4 1121.3 L944.9 1121.0 L947.4 1120.7 L949.8 1120.5 L952.3 1120.5 L954.8 1120.7 L957.3 1121.0 L959.7 1121.5 L962.1 1122.2 L964.3 1123.2 L966.5 1124.4 L968.5 1125.8 L970.4 1127.4 L972.3 1129.1 L974.1 1130.8 L975.8 1132.7 L977.4 1134.6 L979.0 1136.5 L980.6 1138.4 L982.1 1140.4 L983.7 1142.3 L985.2 1144.3 L986.7 1146.3 L988.2 1148.3 L989.8 1150.3 L991.3 1152.2 L993.0 1154.1 L994.6 1156.0 L996.2 1157.9 L997.9 1159.8 L999.5 1161.7 L1001.1 1163.6 L1002.7 1165.5 L1004.3 1167.4 L1005.9 1169.4 L1007.4 1171.3 L1009.0 1173.3 L1010.7 1175.2 L1012.3 1177.0 L1014.0 1178.9 L1015.7 1180.7 L1017.5 1182.4 L1019.3 1184.1 L1021.2 1185.8 L1023.0 1187.5 L1024.9 1189.1 L1026.9 1190.7 L1028.8 1192.3 L1030.8 1193.8 L1032.8 1195.3 L1034.8 1196.8 L1036.8 1198.3 L1038.9 1199.7 L1040.9 1201.1 L1043.0 1202.5 L1045.1 1203.8 L1047.3 1205.1 L1049.4 1206.4 L1051.5 1207.7 L1053.7 1208.9 L1055.9 1210.1 L1058.2 1211.2 L1060.4 1212.3 L1062.7 1213.2 L1065.1 1214.1 L1067.4 1215.0 L1069.8 1215.8 L1072.1 1216.6 L1074.5 1217.4 L1076.9 1218.1 L1079.3 1218.9 L1081.7 1219.7 L1084.0 1220.4 L1086.4 1221.1 L1088.9 1221.8 L1091.3 1222.4 L1093.7 1222.9 L1096.2 1223.5 L1098.6 1224.0 L1101.1 1224.4 L1103.5 1224.9 L1106.0 1225.3 L1108.4 1225.7 L1110.9 1226.1 L1113.4 1226.5 L1115.9 1226.9 L1118.3 1227.2 L1120.8 1227.5 L1123.3 1227.8 L1125.8 1228.1 L1128.3 1228.3 L1130.8 1228.6 L1133.2 1228.8 L1135.7 1229.0 L1138.2 1229.1 L1140.7 1229.3 L1143.2 1229.5 L1145.7 1229.6 L1148.2 1229.8 L1150.7 1229.9 L1153.2 1230.0 L1155.7 1230.1 L1158.2 1230.3 L1160.7 1230.4 L1163.2 1230.5 L1165.7 1230.6 L1168.2 1230.7 L1170.7 1230.7 L1173.2 1230.8 L1175.7 1230.9 L1178.2 1231.0 L1180.7 1231.1 L1183.2 1231.2 L1185.7 1231.3 L1188.2 1231.3 L1190.7 1231.4 L1193.2 1231.5 L1195.7 1231.6 L1198.2 1231.7 L1200.7 1231.7 L1203.2 1231.8 L1205.7 1231.9 L1208.2 1232.0 L1210.7 1232.0 L1213.2 1232.1 L1215.7 1232.2 L1218.2 1232.2 L1220.7 1232.3 L1223.2 1232.3 L1225.7 1232.4 L1228.2 1232.5 L1230.7 1232.5 L1233.2 1232.5 L1235.7 1232.6 L1238.2 1232.6 L1240.7 1232.7 L1243.2 1232.7 L1245.7 1232.7 L1248.2 1232.7 L1250.7 1232.8 L1253.2 1232.8 L1255.7 1232.8 L1258.2 1232.8 L1260.7 1232.8 L1263.2 1232.8 L1265.7 1232.8 L1268.2 1232.8 L1270.7 1232.8 L1273.2 1232.8 L1275.7 1232.8 L1278.2 1232.8 L1280.7 1232.8 L1283.2 1232.8 L1285.7 1232.8 L1288.2 1232.8 L1290.7 1232.8 L1293.2 1232.8 L1295.7 1232.8 L1298.2 1232.8 L1300.7 1232.8 L1303.2 1232.8 L1305.7 1232.8 L1308.2 1232.8 L1310.7 1232.8 L1313.2 1232.8 L1315.7 1232.8 L1318.2 1232.8 L1320.7 1232.8 L1323.2 1232.8 L1325.7 1232.8 L1328.2 1232.8 L1330.7 1232.8 L1333.2 1232.8 L1335.7 1232.8 L1338.2 1232.8 L1340.7 1232.8 L1343.2 1232.8 L1345.7 1232.8 L1348.2 1232.8 L1350.7 1232.8 L1353.2 1232.8 L1355.7 1232.8 L1358.2 1232.8 L1360.7 1232.8 L1363.2 1232.8 L1365.7 1232.8 L1368.2 1232.8 L1370.7 1232.8 L1373.2 1232.8 L1375.7 1232.8 L1378.2 1232.8 L1380.7 1232.8 L1383.2 1232.8 L1385.7 1232.8 L1388.2 1232.8 L1390.7 1232.8 L1393.2 1232.8 L1395.7 1232.8 L1398.2 1232.8 L1400.7 1232.8 L1403.2 1232.8 L1405.6 1232.8 L1408.0 1232.8 L1410.0 1232.8 L1413.0 1232.8"/>
<path stroke="#ff0808" d="M1441.0 1234.0 L1443.8 1233.9 L1446.1 1233.8 L1448.5 1233.7 L1451.0 1233.6 L1453.5 1233.5 L1456.0 1233.3 L1458.5 1233.1 L1461.0 1233.0 L1463.5 1232.8 L1466.0 1232.6 L1468.5 1232.4 L1470.9 1232.2 L1473.4 1232.0 L1475.9 1231.8 L1478.4 1231.5 L1480.9 1231.3 L1483.4 1231.1 L1485.9 1230.8 L1488.4 1230.6 L1490.9 1230.3 L1493.3 1230.0 L1495.8 1229.7 L1498.3 1229.4 L1500.8 1229.1 L1503.2 1228.7 L1505.7 1228.3 L1508.2 1228.0 L1510.7 1227.6 L1513.1 1227.2 L1515.6 1226.7 L1518.1 1226.3 L1520.5 1225.9 L1523.0 1225.5 L1525.4 1225.0 L1527.9 1224.5 L1530.3 1224.0 L1532.8 1223.5 L1535.2 1223.0 L1537.7 1222.5 L1540.1 1222.0 L1542.6 1221.5 L1545.0 1221.0 L1547.5 1220.6 L1550.0 1220.1 L1552.4 1219.6 L1554.8 1219.1 L1557.3 1218.5 L1559.7 1217.8 L1562.1 1217.1 L1564.5 1216.3 L1566.8 1215.5 L1569.1 1214.6 L1571.4 1213.6 L1573.7 1212.5 L1575.9 1211.4 L1578.1 1210.2 L1580.2 1208.9 L1582.2 1207.4 L1584.2 1205.9 L1586.2 1204.3 L1588.1 1202.7 L1589.9 1201.0 L1591.8 1199.4 L1593.7 1197.7 L1595.6 1196.1 L1597.5 1194.5 L1599.3 1192.8 L1601.2 1191.1 L1603.1 1189.5 L1604.9 1187.8 L1606.8 1186.1 L1608.6 1184.4 L1610.4 1182.7 L1612.3 1181.1 L1614.2 1179.4 L1616.1 1177.8 L1618.0 1176.1 L1619.9 1174.5 L1621.8 1172.9 L1623.7 1171.3 L1625.6 1169.6 L1627.5 1168.0 L1629.4 1166.4 L1631.3 1164.8 L1633.2 1163.2 L1635.1 1161.6 L1637.0 1160.0 L1638.9 1158.3 L1640.8 1156.7 L1642.7 1155.1 L1644.6 1153.5 L1646.5 1151.8 L1648.4 1150.2 L1650.4 1148.6 L1652.3 1147.0 L1654.2 1145.5 L1656.2 1143.9 L1658.1 1142.3 L1660.1 1140.8 L1662.1 1139.3 L1664.0 1137.7 L1666.0 1136.1 L1667.9 1134.6 L1669.8 1133.0 L1671.8 1131.4 L1673.7 1129.7 L1675.6 1128.1 L1677.4 1126.5 L1679.3 1124.8 L1681.2 1123.1 L1683.0 1121.4 L1684.8 1119.7 L1686.6 1118.0 L1688.4 1116.2 L1690.2 1114.5 L1691.9 1112.6 L1693.6 1110.8 L1695.2 1108.9 L1696.9 1107.0 L1698.5 1105.2 L1700.2 1103.3 L1701.8 1101.4 L1703.4 1099.5 L1705.1 1097.6 L1706.7 1095.7 L1708.3 1093.8 L1709.9 1091.9 L1711.6 1090.0 L1713.3 1088.2 L1715.1 1086.5 L1717.1 1085.0 L1719.1 1083.6 L1721.3 1082.4 L1723.6 1081.5 L1725.9 1081.1 L1728.3 1081.3 L1730.5 1082.1 L1732.7 1083.3 L1734.7 1084.7 L1736.5 1086.4 L1738.2 1088.2 L1739.8 1090.2 L1741.3 1092.2 L1742.7 1094.3 L1744.0 1096.4 L1745.2 1098.6 L1746.4 1100.7 L1747.5 1103.0 L1748.6 1105.2 L1749.6 1107.5 L1750.5 1109.8 L1751.5 1112.2 L1752.4 1114.5 L1753.3 1116.8 L1754.2 1119.1 L1755.1 1121.5 L1756.1 1123.8 L1757.1 1126.1 L1758.1 1128.3 L1759.1 1130.6 L1760.2 1132.9 L1761.2 1135.2 L1762.2 1137.5 L1763.3 1139.7 L1764.3 1142.0 L1765.4 1144.3 L1766.5 1146.5 L1767.5 1148.8 L1768.6 1151.0 L1769.7 1153.3 L1770.8 1155.5 L1771.9 1157.8 L1773.0 1160.0 L1774.2 1162.2 L1775.4 1164.4 L1776.7 1166.5 L1778.1 1168.6 L1779.5 1170.7 L1780.9 1172.7 L1782.4 1174.8 L1783.9 1176.7 L1785.5 1178.6 L1787.2 1180.5 L1788.9 1182.3 L1790.7 1184.1 L1792.4 1185.9 L1794.3 1187.5 L1796.2 1189.1 L1798.2 1190.6 L1800.3 1191.9 L1802.6 1193.1 L1804.8 1194.1 L1807.1 1195.0 L1809.5 1195.9 L1811.9 1196.6 L1814.3 1197.3 L1816.7 1198.0 L1819.1 1198.7 L1821.5 1199.3 L1823.9 1199.9 L1826.3 1200.6 L1828.8 1201.1 L1831.2 1201.6 L1833.7 1202.0 L1836.2 1202.2 L1838.7 1202.3 L1841.2 1202.4 L1843.7 1202.3 L1846.2 1202.3 L1848.7 1202.2 L1851.2 1202.1 L1853.7 1202.0 L1856.1 1201.9 L1858.6 1201.7 L1861.1 1201.4 L1863.6 1201.0 L1866.0 1200.4 L1868.4 1199.7 L1870.8 1199.0 L1873.2 1198.2 L1875.6 1197.6 L1878.0 1196.9 L1880.4 1196.2 L1882.8 1195.6 L1885.2 1195.0 L1887.7 1194.4 L1890.1 1193.9 L1892.6 1193.4 L1895.0 1192.9 L1897.5 1192.5 L1899.9 1192.1 L1902.4 1191.8 L1904.9 1191.7 L1907.4 1191.6 L1909.9 1191.7 L1912.4 1192.0 L1914.9 1192.3 L1917.3 1192.7 L1919.8 1193.2 L1922.2 1193.7 L1924.6 1194.4 L1927.0 1195.2 L1929.3 1196.2 L1931.5 1197.2 L1933.8 1198.3 L1936.0 1199.5 L1938.2 1200.7 L1940.4 1201.9 L1942.5 1203.2 L1944.6 1204.5 L1946.7 1205.9 L1948.8 1207.3 L1950.9 1208.6 L1953.0 1209.9 L1955.2 1211.2 L1957.4 1212.4 L1959.6 1213.6 L1961.8 1214.8 L1964.0 1215.9 L1966.3 1216.9 L1968.6 1217.8 L1971.0 1218.6 L1973.4 1219.3 L1975.8 1220.0 L1978.2 1220.6 L1980.7 1221.1 L1983.1 1221.5 L1985.6 1221.9 L1988.1 1222.2 L1990.6 1222.4 L1993.0 1222.6 L1995.5 1222.7 L1998.0 1222.9 L2000.5 1223.0 L2003.0 1223.1 L2005.5 1223.2 L2008.0 1223.3 L2010.5 1223.3 L2013.0 1223.4 L2015.5 1223.4 L2018.0 1223.4 L2020.5 1223.4 L2023.0 1223.3 L2025.5 1223.3 L2028.0 1223.2 L2030.5 1223.1 L2033.0 1223.1 L2035.5 1223.0 L2038.0 1222.9 L2040.5 1222.8 L2043.0 1222.7 L2045.5 1222.6 L2048.0 1222.5 L2050.5 1222.5 L2053.0 1222.4 L2055.5 1222.4 L2058.0 1222.4 L2060.5 1222.5 L2063.0 1222.5 L2065.5 1222.6 L2068.0 1222.7 L2070.5 1222.9 L2073.0 1223.0 L2075.5 1223.2 L2078.0 1223.4 L2080.5 1223.7 L2082.9 1223.9 L2085.1 1224.1 L2086.7 1224.3 L2088.0 1224.4"/>
</g>
<g font-family="'Liberation Sans', Arial, sans-serif" fill="#161616" font-size="76" stroke="#161616" stroke-width="1.1" style="font-kerning:none">
<text x="353.5" y="232" text-anchor="middle">9090</text>
<text x="615.5" y="232" text-anchor="middle">8696</text>
<text x="881.0" y="232" text-anchor="middle">8333</text>
<text x="1150.0" y="232" text-anchor="middle">8000</text>
<text x="1551.0" y="232" text-anchor="middle">5882</text>
<text x="1817.0" y="232" text-anchor="middle">5714</text>
<text x="2085.0" y="232" text-anchor="middle">5555</text>
<text x="349.0" y="1327" text-anchor="middle">1100</text>
<text x="615.0" y="1327" text-anchor="middle">1150</text>
<text x="881.0" y="1327" text-anchor="middle">1200</text>
<text x="1148.0" y="1327" text-anchor="middle">1250</text>
<text x="1551.0" y="1327" text-anchor="middle">1700</text>
<text x="1820.0" y="1327" text-anchor="middle">1750</text>
<text x="2088.0" y="1327" text-anchor="middle">1800</text>
<text x="312" y="303.5" text-anchor="end">20</text>
<text x="312" y="541.5" text-anchor="end">15</text>
<text x="312" y="779.0" text-anchor="end">10</text>
<text x="312" y="1017.0" text-anchor="end">5</text>
<text x="312" y="1254.5" text-anchor="end">0</text>
<text x="875" y="119" font-size="78">Wave number (cm<tspan font-size="46" dy="-43">-1</tspan><tspan dy="43"> </tspan><tspan dx="-14">)</tspan></text>
<text x="925" y="1428" font-size="78">Wavelength (nm)</text>
<text transform="translate(162 1101) rotate(-90)" font-size="78" textLength="641" lengthAdjust="spacing">VPA amplitude (V)</text>
</g>
<g font-family="'Liberation Sans', Arial, sans-serif" font-weight="bold" fill="#161616" font-size="49.5">
<line x1="1776" x2="1901" y1="335" y2="335" stroke="#8b0a8f" stroke-width="7.6"/>
<text x="1910.5" y="352.5">1.2mm</text>
<line x1="1776" x2="1901" y1="399" y2="399" stroke="#0a0aff" stroke-width="7.6"/>
<text x="1910.5" y="416.5">1.6mm</text>
<line x1="1776" x2="1901" y1="463" y2="463" stroke="#0a800a" stroke-width="7.6"/>
<text x="1910.5" y="480.5">1.9mm</text>
<line x1="1776" x2="1901" y1="527" y2="527" stroke="#f5851a" stroke-width="7.6"/>
<text x="1910.5" y="544.5">2.6mm</text>
<line x1="1776" x2="1901" y1="591" y2="591" stroke="#ff0808" stroke-width="7.6"/>
<text x="1910.5" y="608.5">2.9mm</text>
</g>
<g stroke="#161616" fill="none">
<path stroke-width="7.5" d="M354.5 1527.5 V2484.5 M2094.2 1527.5 V2509.0"/>
<path stroke-width="7.5" d="M326.5 1531.0 H2094.2 M326.5 2481.0 H2094.2"/>
<path stroke-width="7" d="M421.0 2481.0 V2509.0 M755.5 2481.0 V2509.0 M1090.1 2481.0 V2509.0 M1424.7 2481.0 V2509.0 M1759.2 2481.0 V2509.0 "/>
<path stroke-width="6.5" d="M588.3 2481.0 V2497.0 M922.8 2481.0 V2497.0 M1257.4 2481.0 V2497.0 M1591.9 2481.0 V2497.0 M1926.5 2481.0 V2497.0 "/>
<path stroke-width="7" d="M326.5 2243.5 H354.5 M326.5 2006.0 H354.5 M326.5 1768.5 H354.5 "/>
<path stroke-width="6.5" d="M338 2362.2 H354.5 M338 2124.8 H354.5 M338 1887.2 H354.5 M338 1649.8 H354.5 "/>
</g>
<line x1="272" x2="2180" y1="2369" y2="2369" stroke="#08b0f0" stroke-width="12.6" stroke-dasharray="10.8 12.6"/>
<path d="M420.0 1737.0 C422.8 1739.8 419.6 1736.3 437.0 1753.6 C454.4 1770.9 495.3 1812.9 524.5 1840.8 C553.7 1868.7 582.9 1896.0 612.0 1921.0 C641.1 1946.0 666.9 1967.2 699.0 1991.0 C731.1 2014.8 762.7 2038.5 804.7 2064.0 C846.7 2089.5 904.5 2119.6 951.0 2144.0 C997.5 2168.4 1042.5 2192.2 1084.0 2210.6 C1125.5 2229.0 1164.0 2242.0 1200.0 2254.7 C1236.0 2267.4 1261.2 2275.8 1300.0 2287.0 C1338.8 2298.2 1381.5 2309.5 1432.7 2321.6 C1483.9 2333.7 1548.8 2348.2 1607.0 2359.4 C1665.2 2370.6 1723.5 2380.1 1781.7 2388.5 C1839.9 2396.9 1904.0 2404.2 1956.0 2410.0 C2008.0 2415.8 2071.0 2421.3 2094.0 2423.6" fill="none" stroke="#ff0a0a" stroke-width="8.6"/>
<g stroke="#1212ff" stroke-width="7.2" fill="none">
<path d="M421.5 1657.6 V1808.7"/>
<circle cx="421.5" cy="1732.6" r="20" fill="#fff" stroke="none"/>
<circle cx="421.5" cy="1732.6" r="20" stroke="#0a0a0a" stroke-width="10"/>
<path d="M407.5 1657.6 h28 M407.5 1808.7 h28"/>
</g>
<g stroke="#1212ff" stroke-width="7.2" fill="none">
<path d="M552.4 1739.6 V1939.0"/>
<circle cx="552.4" cy="1839.0" r="20" fill="#fff" stroke="none"/>
<circle cx="552.4" cy="1839.0" r="20" stroke="#0a0a0a" stroke-width="10"/>
<path d="M538.4 1739.6 h28 M538.4 1939.0 h28"/>
</g>
<g stroke="#1212ff" stroke-width="7.2" fill="none">
<path d="M825.6 2020.4 V2064.0"/>
<circle cx="825.6" cy="2043.0" r="20" fill="#fff" stroke="none"/>
<circle cx="825.6" cy="2043.0" r="20" stroke="#0a0a0a" stroke-width="10"/>
<path d="M811.6 2020.4 h28 M811.6 2064.0 h28"/>
</g>
<g stroke="#1212ff" stroke-width="7.2" fill="none">
<circle cx="898.0" cy="2071.0" r="20" fill="#fff" stroke="none"/>
<circle cx="898.0" cy="2071.0" r="20" stroke="#0a0a0a" stroke-width="10"/>
<path stroke-width="8" d="M884.0 2055.5 h28 M884.0 2086.0 h28"/>
<path stroke-width="6" d="M898.0 2045.5 V2055.5 M898.0 2086.0 V2096.5"/>
</g>
<g stroke="#1212ff" stroke-width="7.2" fill="none">
<path d="M975.7 2127.0 V2188.0"/>
<circle cx="975.7" cy="2156.5" r="20" fill="#fff" stroke="none"/>
<circle cx="975.7" cy="2156.5" r="20" stroke="#0a0a0a" stroke-width="10"/>
<path d="M961.7 2127.0 h28 M961.7 2188.0 h28"/>
</g>
<g stroke="#1212ff" stroke-width="7.2" fill="none">
<path d="M1059.5 2167.0 V2228.0"/>
<circle cx="1059.5" cy="2197.0" r="20" fill="#fff" stroke="none"/>
<circle cx="1059.5" cy="2197.0" r="20" stroke="#0a0a0a" stroke-width="10"/>
<path d="M1045.5 2167.0 h28 M1045.5 2228.0 h28"/>
</g>
<g stroke="#1212ff" stroke-width="7.2" fill="none">
<path d="M1155.4 2184.4 V2280.4"/>
<circle cx="1155.4" cy="2231.5" r="20" fill="#fff" stroke="none"/>
<circle cx="1155.4" cy="2231.5" r="20" stroke="#0a0a0a" stroke-width="10"/>
<path d="M1141.4 2184.4 h28 M1141.4 2280.4 h28"/>
</g>
<g stroke="#1212ff" stroke-width="7.2" fill="none">
<circle cx="1264.0" cy="2275.0" r="20" fill="#fff" stroke="none"/>
<path stroke-width="10" stroke="#3535ff" d="M1249.0 2267.3 h30 M1249.0 2282.7 h30"/>
<circle cx="1264.0" cy="2275.0" r="20" stroke="#0a0a0a" stroke-width="10"/>
<path stroke-width="4.5" d="M1264.0 2250.0 V2271.0 M1264.0 2279.0 V2300.0"/>
</g>
<g stroke="#1212ff" stroke-width="7.2" fill="none">
<circle cx="1397.8" cy="2337.3" r="20" fill="#fff" stroke="none"/>
<path stroke-width="10" stroke="#3535ff" d="M1382.8 2329.6 h30 M1382.8 2345.0 h30"/>
<circle cx="1397.8" cy="2337.3" r="20" stroke="#0a0a0a" stroke-width="10"/>
<path stroke-width="4.5" d="M1397.8 2312.3 V2333.3 M1397.8 2341.3 V2362.3"/>
</g>
<g stroke="#1212ff" stroke-width="7.2" fill="none">
<circle cx="1606.0" cy="2393.0" r="20" fill="#fff" stroke="none"/>
<path stroke-width="10" stroke="#3535ff" d="M1591.0 2385.3 h30 M1591.0 2400.7 h30"/>
<circle cx="1606.0" cy="2393.0" r="20" stroke="#0a0a0a" stroke-width="10"/>
<path stroke-width="4.5" d="M1606.0 2368.0 V2389.0 M1606.0 2397.0 V2418.0"/>
</g>
<line x1="817" x2="1021" y1="1654" y2="1654" stroke="#ff0a0a" stroke-width="9"/>
<circle cx="918" cy="1761" r="20.5" fill="none" stroke="#0a0a0a" stroke-width="10"/>
<g font-family="'Liberation Sans', Arial, sans-serif" fill="#161616" font-size="96" stroke="#161616" stroke-width="1.2" style="font-kerning:none">
<text x="1040" y="1684" font-size="86.5">Theoretical calculation</text>
<text x="1038" y="1789.5" font-size="86.5">Experiment results</text>
<text x="421.5" y="2598" text-anchor="middle">0</text>
<text x="756.0" y="2598" text-anchor="middle">1</text>
<text x="1090.6" y="2598" text-anchor="middle">2</text>
<text x="1425.2" y="2598" text-anchor="middle">3</text>
<text x="1759.7" y="2598" text-anchor="middle">4</text>
<text x="2094.2" y="2598" text-anchor="middle">5</text>
<text x="315" y="2508.0" text-anchor="end">0</text>
<text x="315" y="2270.5" text-anchor="end">2</text>
<text x="315" y="2033.0" text-anchor="end">4</text>
<text x="315" y="1795.5" text-anchor="end">6</text>
<text x="315" y="1558.0" text-anchor="end">8</text>
<text x="640" y="2714" font-size="96.5">Water layer thickness (mm)</text>
<text transform="translate(145 2396) rotate(-90)" font-size="95" textLength="704" lengthAdjust="spacing">PA<tspan font-size="58.5" dy="39.5">1730nm</tspan><tspan dy="-39.5">/PA</tspan><tspan font-size="58.5" dy="39.5">1210nm</tspan></text>
</g>
</g>
<g font-family="'Liberation Serif', 'Times New Roman', serif" font-weight="bold" font-size="120" fill="#050505" filter="url(#soft2)">
<text x="60.5" y="150.5">(A)</text>
<text x="60.5" y="1507">(B)</text>
</g>
</svg>
</body>
</html>
